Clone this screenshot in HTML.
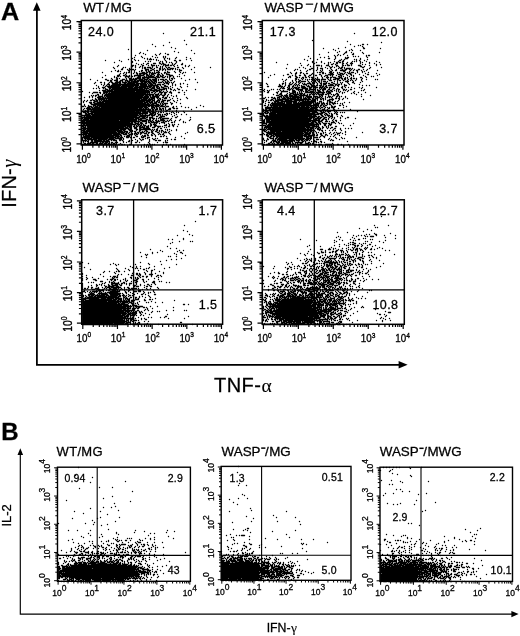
<!DOCTYPE html><html><head><meta charset="utf-8"><title>Figure</title><style>html,body{margin:0;padding:0;background:#fff}body{width:520px;height:636px;overflow:hidden;font-family:"Liberation Sans",sans-serif}svg{filter:grayscale(1)}svg text{white-space:pre}</style></head><body><svg width="520" height="636" viewBox="0 0 520 636" style="display:block"><rect width="520" height="636" fill="#fff"/><g fill="#000"><text transform="translate(1.0 19.8) scale(1.05 1)" font-size="24" font-weight="bold" font-family="Liberation Sans, sans-serif" stroke="#000" stroke-width="0.28">A</text><text x="1.3" y="439.5" font-size="24" font-family="Liberation Sans, sans-serif" stroke="#000" stroke-width="0.28" font-weight="bold">B</text><path d="M36.9 9V364.9H400" stroke="#000" stroke-width="1.75" fill="none"/><path d="M36.8 2.3L33 10.8H40.6Z"/><path d="M407.6 364.8L398.6 361.1V368.6Z"/><path d="M20.3 454V614.1H514" stroke="#000" stroke-width="1.15" fill="none"/><path d="M20.3 448.3L17.5 455H23.1Z"/><path d="M518.6 614.1L511.4 611.0V617.2Z"/><text transform="translate(16.4 207.7) rotate(-90)" font-size="20" letter-spacing="0.2" font-family="Liberation Sans, sans-serif" stroke="#000" stroke-width="0.28">IFN-<tspan font-family="Liberation Serif, serif" stroke-width="0.1" letter-spacing="0" font-style="italic" font-size="20" dx="0.5">γ</tspan></text><text x="214" y="392.2" font-size="20" letter-spacing="0.45" font-family="Liberation Sans, sans-serif" stroke="#000" stroke-width="0.28">TNF-<tspan font-family="Liberation Serif, serif" stroke-width="0.1" letter-spacing="0" font-size="19.5" dx="0.1">α</tspan></text><text transform="translate(11.1 526.6) rotate(-90)" font-size="13" font-family="Liberation Sans, sans-serif" stroke="#000" stroke-width="0.28">IL-2</text><text x="266.7" y="632.3" font-size="12.3" font-family="Liberation Sans, sans-serif" stroke="#000" stroke-width="0.28">IFN-<tspan font-family="Liberation Serif, serif" stroke-width="0.1" letter-spacing="0" font-size="13.5" dx="0.3">γ</tspan></text><rect x="81.3" y="20.5" width="141.2" height="124.5" fill="none" stroke="#000" stroke-width="1.5"/><path d="M131.4 20.5V145.0M81.3 111.2H222.5" stroke="#000" stroke-width="1.3" fill="none"/><path d="M82.40 145.0v4.8M81.3 143.90h-4.8M92.86 145.0v2.8M81.3 134.70h-2.8M98.98 145.0v2.8M81.3 129.31h-2.8M103.32 145.0v2.8M81.3 125.49h-2.8M106.69 145.0v2.8M81.3 122.53h-2.8M109.44 145.0v2.8M81.3 120.11h-2.8M111.77 145.0v2.8M81.3 118.06h-2.8M113.78 145.0v2.8M81.3 116.29h-2.8M115.56 145.0v2.8M81.3 114.72h-2.8M117.15 145.0v4.8M81.3 113.33h-4.8M127.61 145.0v2.8M81.3 104.12h-2.8M133.73 145.0v2.8M81.3 98.74h-2.8M138.07 145.0v2.8M81.3 94.92h-2.8M141.44 145.0v2.8M81.3 91.95h-2.8M144.19 145.0v2.8M81.3 89.53h-2.8M146.52 145.0v2.8M81.3 87.49h-2.8M148.53 145.0v2.8M81.3 85.71h-2.8M150.31 145.0v2.8M81.3 84.15h-2.8M151.90 145.0v4.8M81.3 82.75h-4.8M162.36 145.0v2.8M81.3 73.55h-2.8M168.48 145.0v2.8M81.3 68.16h-2.8M172.82 145.0v2.8M81.3 64.34h-2.8M176.19 145.0v2.8M81.3 61.38h-2.8M178.94 145.0v2.8M81.3 58.96h-2.8M181.27 145.0v2.8M81.3 56.91h-2.8M183.28 145.0v2.8M81.3 55.14h-2.8M185.06 145.0v2.8M81.3 53.57h-2.8M186.65 145.0v4.8M81.3 52.18h-4.8M197.11 145.0v2.8M81.3 42.97h-2.8M203.23 145.0v2.8M81.3 37.59h-2.8M207.57 145.0v2.8M81.3 33.77h-2.8M210.94 145.0v2.8M81.3 30.80h-2.8M213.69 145.0v2.8M81.3 28.38h-2.8M216.02 145.0v2.8M81.3 26.34h-2.8M218.03 145.0v2.8M81.3 24.56h-2.8M219.81 145.0v2.8M81.3 23.00h-2.8M221.40 145.0v4.8M81.3 21.60h-4.8" stroke="#000" stroke-width="1.2" fill="none"/><text transform="translate(76.15 163.00) scale(1 1.2)" font-size="9.8" font-family="Liberation Sans, sans-serif" stroke="#000" stroke-width="0.28">10<tspan dy="-4.0" font-size="6.6">0</tspan></text><text transform="translate(71.30 152.52) rotate(-90) scale(1 1.2)" font-size="10.3" font-family="Liberation Sans, sans-serif" stroke="#000" stroke-width="0.28">10<tspan dy="-3.6" font-size="6.8">0</tspan></text><text transform="translate(110.50 163.00) scale(1 1.2)" font-size="9.8" font-family="Liberation Sans, sans-serif" stroke="#000" stroke-width="0.28">10<tspan dy="-4.0" font-size="6.6">1</tspan></text><text transform="translate(71.30 121.94) rotate(-90) scale(1 1.2)" font-size="10.3" font-family="Liberation Sans, sans-serif" stroke="#000" stroke-width="0.28">10<tspan dy="-3.6" font-size="6.8">1</tspan></text><text transform="translate(144.85 163.00) scale(1 1.2)" font-size="9.8" font-family="Liberation Sans, sans-serif" stroke="#000" stroke-width="0.28">10<tspan dy="-4.0" font-size="6.6">2</tspan></text><text transform="translate(71.30 91.37) rotate(-90) scale(1 1.2)" font-size="10.3" font-family="Liberation Sans, sans-serif" stroke="#000" stroke-width="0.28">10<tspan dy="-3.6" font-size="6.8">2</tspan></text><text transform="translate(179.20 163.00) scale(1 1.2)" font-size="9.8" font-family="Liberation Sans, sans-serif" stroke="#000" stroke-width="0.28">10<tspan dy="-4.0" font-size="6.6">3</tspan></text><text transform="translate(71.30 60.79) rotate(-90) scale(1 1.2)" font-size="10.3" font-family="Liberation Sans, sans-serif" stroke="#000" stroke-width="0.28">10<tspan dy="-3.6" font-size="6.8">3</tspan></text><text transform="translate(213.55 163.00) scale(1 1.2)" font-size="9.8" font-family="Liberation Sans, sans-serif" stroke="#000" stroke-width="0.28">10<tspan dy="-4.0" font-size="6.6">4</tspan></text><text transform="translate(71.30 30.22) rotate(-90) scale(1 1.2)" font-size="10.3" font-family="Liberation Sans, sans-serif" stroke="#000" stroke-width="0.28">10<tspan dy="-3.6" font-size="6.8">4</tspan></text><rect x="262.3" y="20.5" width="141.7" height="124.5" fill="none" stroke="#000" stroke-width="1.5"/><path d="M313.7 20.5V145.0M262.3 110.5H404.0" stroke="#000" stroke-width="1.3" fill="none"/><path d="M263.40 145.0v4.8M262.3 143.90h-4.8M273.90 145.0v2.8M262.3 134.70h-2.8M280.04 145.0v2.8M262.3 129.31h-2.8M284.40 145.0v2.8M262.3 125.49h-2.8M287.78 145.0v2.8M262.3 122.53h-2.8M290.54 145.0v2.8M262.3 120.11h-2.8M292.87 145.0v2.8M262.3 118.06h-2.8M294.90 145.0v2.8M262.3 116.29h-2.8M296.68 145.0v2.8M262.3 114.72h-2.8M298.28 145.0v4.8M262.3 113.33h-4.8M308.77 145.0v2.8M262.3 104.12h-2.8M314.91 145.0v2.8M262.3 98.74h-2.8M319.27 145.0v2.8M262.3 94.92h-2.8M322.65 145.0v2.8M262.3 91.95h-2.8M325.41 145.0v2.8M262.3 89.53h-2.8M327.75 145.0v2.8M262.3 87.49h-2.8M329.77 145.0v2.8M262.3 85.71h-2.8M331.55 145.0v2.8M262.3 84.15h-2.8M333.15 145.0v4.8M262.3 82.75h-4.8M343.65 145.0v2.8M262.3 73.55h-2.8M349.79 145.0v2.8M262.3 68.16h-2.8M354.15 145.0v2.8M262.3 64.34h-2.8M357.53 145.0v2.8M262.3 61.38h-2.8M360.29 145.0v2.8M262.3 58.96h-2.8M362.62 145.0v2.8M262.3 56.91h-2.8M364.65 145.0v2.8M262.3 55.14h-2.8M366.43 145.0v2.8M262.3 53.57h-2.8M368.03 145.0v4.8M262.3 52.18h-4.8M378.52 145.0v2.8M262.3 42.97h-2.8M384.66 145.0v2.8M262.3 37.59h-2.8M389.02 145.0v2.8M262.3 33.77h-2.8M392.40 145.0v2.8M262.3 30.80h-2.8M395.16 145.0v2.8M262.3 28.38h-2.8M397.50 145.0v2.8M262.3 26.34h-2.8M399.52 145.0v2.8M262.3 24.56h-2.8M401.30 145.0v2.8M262.3 23.00h-2.8M402.90 145.0v4.8M262.3 21.60h-4.8" stroke="#000" stroke-width="1.2" fill="none"/><text transform="translate(257.15 163.00) scale(1 1.2)" font-size="9.8" font-family="Liberation Sans, sans-serif" stroke="#000" stroke-width="0.28">10<tspan dy="-4.0" font-size="6.6">0</tspan></text><text transform="translate(252.30 152.52) rotate(-90) scale(1 1.2)" font-size="10.3" font-family="Liberation Sans, sans-serif" stroke="#000" stroke-width="0.28">10<tspan dy="-3.6" font-size="6.8">0</tspan></text><text transform="translate(291.63 163.00) scale(1 1.2)" font-size="9.8" font-family="Liberation Sans, sans-serif" stroke="#000" stroke-width="0.28">10<tspan dy="-4.0" font-size="6.6">1</tspan></text><text transform="translate(252.30 121.94) rotate(-90) scale(1 1.2)" font-size="10.3" font-family="Liberation Sans, sans-serif" stroke="#000" stroke-width="0.28">10<tspan dy="-3.6" font-size="6.8">1</tspan></text><text transform="translate(326.10 163.00) scale(1 1.2)" font-size="9.8" font-family="Liberation Sans, sans-serif" stroke="#000" stroke-width="0.28">10<tspan dy="-4.0" font-size="6.6">2</tspan></text><text transform="translate(252.30 91.37) rotate(-90) scale(1 1.2)" font-size="10.3" font-family="Liberation Sans, sans-serif" stroke="#000" stroke-width="0.28">10<tspan dy="-3.6" font-size="6.8">2</tspan></text><text transform="translate(360.58 163.00) scale(1 1.2)" font-size="9.8" font-family="Liberation Sans, sans-serif" stroke="#000" stroke-width="0.28">10<tspan dy="-4.0" font-size="6.6">3</tspan></text><text transform="translate(252.30 60.79) rotate(-90) scale(1 1.2)" font-size="10.3" font-family="Liberation Sans, sans-serif" stroke="#000" stroke-width="0.28">10<tspan dy="-3.6" font-size="6.8">3</tspan></text><text transform="translate(395.05 163.00) scale(1 1.2)" font-size="9.8" font-family="Liberation Sans, sans-serif" stroke="#000" stroke-width="0.28">10<tspan dy="-4.0" font-size="6.6">4</tspan></text><text transform="translate(252.30 30.22) rotate(-90) scale(1 1.2)" font-size="10.3" font-family="Liberation Sans, sans-serif" stroke="#000" stroke-width="0.28">10<tspan dy="-3.6" font-size="6.8">4</tspan></text><rect x="81.7" y="199.8" width="140.89999999999998" height="124.39999999999998" fill="none" stroke="#000" stroke-width="1.5"/><path d="M133.6 199.8V324.2M81.7 289.8H222.6" stroke="#000" stroke-width="1.3" fill="none"/><path d="M82.80 324.2v4.8M81.7 323.10h-4.8M93.24 324.2v2.8M81.7 313.90h-2.8M99.34 324.2v2.8M81.7 308.52h-2.8M103.68 324.2v2.8M81.7 304.71h-2.8M107.04 324.2v2.8M81.7 301.75h-2.8M109.78 324.2v2.8M81.7 299.33h-2.8M112.10 324.2v2.8M81.7 297.28h-2.8M114.11 324.2v2.8M81.7 295.51h-2.8M115.89 324.2v2.8M81.7 293.95h-2.8M117.47 324.2v4.8M81.7 292.55h-4.8M127.91 324.2v2.8M81.7 283.35h-2.8M134.02 324.2v2.8M81.7 277.97h-2.8M138.35 324.2v2.8M81.7 274.16h-2.8M141.71 324.2v2.8M81.7 271.20h-2.8M144.46 324.2v2.8M81.7 268.78h-2.8M146.78 324.2v2.8M81.7 266.73h-2.8M148.79 324.2v2.8M81.7 264.96h-2.8M150.56 324.2v2.8M81.7 263.40h-2.8M152.15 324.2v4.8M81.7 262.00h-4.8M162.59 324.2v2.8M81.7 252.80h-2.8M168.69 324.2v2.8M81.7 247.42h-2.8M173.03 324.2v2.8M81.7 243.61h-2.8M176.39 324.2v2.8M81.7 240.65h-2.8M179.13 324.2v2.8M81.7 238.23h-2.8M181.45 324.2v2.8M81.7 236.18h-2.8M183.46 324.2v2.8M81.7 234.41h-2.8M185.24 324.2v2.8M81.7 232.85h-2.8M186.82 324.2v4.8M81.7 231.45h-4.8M197.26 324.2v2.8M81.7 222.25h-2.8M203.37 324.2v2.8M81.7 216.87h-2.8M207.70 324.2v2.8M81.7 213.06h-2.8M211.06 324.2v2.8M81.7 210.10h-2.8M213.81 324.2v2.8M81.7 207.68h-2.8M216.13 324.2v2.8M81.7 205.63h-2.8M218.14 324.2v2.8M81.7 203.86h-2.8M219.91 324.2v2.8M81.7 202.30h-2.8M221.50 324.2v4.8M81.7 200.90h-4.8" stroke="#000" stroke-width="1.2" fill="none"/><text transform="translate(76.55 342.20) scale(1 1.2)" font-size="9.8" font-family="Liberation Sans, sans-serif" stroke="#000" stroke-width="0.28">10<tspan dy="-4.0" font-size="6.6">0</tspan></text><text transform="translate(71.70 331.72) rotate(-90) scale(1 1.2)" font-size="10.3" font-family="Liberation Sans, sans-serif" stroke="#000" stroke-width="0.28">10<tspan dy="-3.6" font-size="6.8">0</tspan></text><text transform="translate(110.83 342.20) scale(1 1.2)" font-size="9.8" font-family="Liberation Sans, sans-serif" stroke="#000" stroke-width="0.28">10<tspan dy="-4.0" font-size="6.6">1</tspan></text><text transform="translate(71.70 301.17) rotate(-90) scale(1 1.2)" font-size="10.3" font-family="Liberation Sans, sans-serif" stroke="#000" stroke-width="0.28">10<tspan dy="-3.6" font-size="6.8">1</tspan></text><text transform="translate(145.10 342.20) scale(1 1.2)" font-size="9.8" font-family="Liberation Sans, sans-serif" stroke="#000" stroke-width="0.28">10<tspan dy="-4.0" font-size="6.6">2</tspan></text><text transform="translate(71.70 270.62) rotate(-90) scale(1 1.2)" font-size="10.3" font-family="Liberation Sans, sans-serif" stroke="#000" stroke-width="0.28">10<tspan dy="-3.6" font-size="6.8">2</tspan></text><text transform="translate(179.38 342.20) scale(1 1.2)" font-size="9.8" font-family="Liberation Sans, sans-serif" stroke="#000" stroke-width="0.28">10<tspan dy="-4.0" font-size="6.6">3</tspan></text><text transform="translate(71.70 240.07) rotate(-90) scale(1 1.2)" font-size="10.3" font-family="Liberation Sans, sans-serif" stroke="#000" stroke-width="0.28">10<tspan dy="-3.6" font-size="6.8">3</tspan></text><text transform="translate(213.65 342.20) scale(1 1.2)" font-size="9.8" font-family="Liberation Sans, sans-serif" stroke="#000" stroke-width="0.28">10<tspan dy="-4.0" font-size="6.6">4</tspan></text><text transform="translate(71.70 209.52) rotate(-90) scale(1 1.2)" font-size="10.3" font-family="Liberation Sans, sans-serif" stroke="#000" stroke-width="0.28">10<tspan dy="-3.6" font-size="6.8">4</tspan></text><rect x="262.3" y="199.8" width="142.0" height="124.5" fill="none" stroke="#000" stroke-width="1.5"/><path d="M314.3 199.8V324.3M262.3 289.8H404.3" stroke="#000" stroke-width="1.3" fill="none"/><path d="M263.40 324.3v4.8M262.3 323.20h-4.8M273.92 324.3v2.8M262.3 314.00h-2.8M280.08 324.3v2.8M262.3 308.61h-2.8M284.44 324.3v2.8M262.3 304.79h-2.8M287.83 324.3v2.8M262.3 301.83h-2.8M290.60 324.3v2.8M262.3 299.41h-2.8M292.94 324.3v2.8M262.3 297.36h-2.8M294.96 324.3v2.8M262.3 295.59h-2.8M296.75 324.3v2.8M262.3 294.02h-2.8M298.35 324.3v4.8M262.3 292.62h-4.8M308.87 324.3v2.8M262.3 283.42h-2.8M315.03 324.3v2.8M262.3 278.04h-2.8M319.39 324.3v2.8M262.3 274.22h-2.8M322.78 324.3v2.8M262.3 271.25h-2.8M325.55 324.3v2.8M262.3 268.83h-2.8M327.89 324.3v2.8M262.3 266.79h-2.8M329.91 324.3v2.8M262.3 265.01h-2.8M331.70 324.3v2.8M262.3 263.45h-2.8M333.30 324.3v4.8M262.3 262.05h-4.8M343.82 324.3v2.8M262.3 252.85h-2.8M349.98 324.3v2.8M262.3 247.46h-2.8M354.34 324.3v2.8M262.3 243.64h-2.8M357.73 324.3v2.8M262.3 240.68h-2.8M360.50 324.3v2.8M262.3 238.26h-2.8M362.84 324.3v2.8M262.3 236.21h-2.8M364.86 324.3v2.8M262.3 234.44h-2.8M366.65 324.3v2.8M262.3 232.87h-2.8M368.25 324.3v4.8M262.3 231.47h-4.8M378.77 324.3v2.8M262.3 222.27h-2.8M384.93 324.3v2.8M262.3 216.89h-2.8M389.29 324.3v2.8M262.3 213.07h-2.8M392.68 324.3v2.8M262.3 210.10h-2.8M395.45 324.3v2.8M262.3 207.68h-2.8M397.79 324.3v2.8M262.3 205.64h-2.8M399.81 324.3v2.8M262.3 203.86h-2.8M401.60 324.3v2.8M262.3 202.30h-2.8M403.20 324.3v4.8M262.3 200.90h-4.8" stroke="#000" stroke-width="1.2" fill="none"/><text transform="translate(257.15 342.30) scale(1 1.2)" font-size="9.8" font-family="Liberation Sans, sans-serif" stroke="#000" stroke-width="0.28">10<tspan dy="-4.0" font-size="6.6">0</tspan></text><text transform="translate(252.30 331.82) rotate(-90) scale(1 1.2)" font-size="10.3" font-family="Liberation Sans, sans-serif" stroke="#000" stroke-width="0.28">10<tspan dy="-3.6" font-size="6.8">0</tspan></text><text transform="translate(291.70 342.30) scale(1 1.2)" font-size="9.8" font-family="Liberation Sans, sans-serif" stroke="#000" stroke-width="0.28">10<tspan dy="-4.0" font-size="6.6">1</tspan></text><text transform="translate(252.30 301.24) rotate(-90) scale(1 1.2)" font-size="10.3" font-family="Liberation Sans, sans-serif" stroke="#000" stroke-width="0.28">10<tspan dy="-3.6" font-size="6.8">1</tspan></text><text transform="translate(326.25 342.30) scale(1 1.2)" font-size="9.8" font-family="Liberation Sans, sans-serif" stroke="#000" stroke-width="0.28">10<tspan dy="-4.0" font-size="6.6">2</tspan></text><text transform="translate(252.30 270.67) rotate(-90) scale(1 1.2)" font-size="10.3" font-family="Liberation Sans, sans-serif" stroke="#000" stroke-width="0.28">10<tspan dy="-3.6" font-size="6.8">2</tspan></text><text transform="translate(360.80 342.30) scale(1 1.2)" font-size="9.8" font-family="Liberation Sans, sans-serif" stroke="#000" stroke-width="0.28">10<tspan dy="-4.0" font-size="6.6">3</tspan></text><text transform="translate(252.30 240.09) rotate(-90) scale(1 1.2)" font-size="10.3" font-family="Liberation Sans, sans-serif" stroke="#000" stroke-width="0.28">10<tspan dy="-3.6" font-size="6.8">3</tspan></text><text transform="translate(395.35 342.30) scale(1 1.2)" font-size="9.8" font-family="Liberation Sans, sans-serif" stroke="#000" stroke-width="0.28">10<tspan dy="-4.0" font-size="6.6">4</tspan></text><text transform="translate(252.30 209.52) rotate(-90) scale(1 1.2)" font-size="10.3" font-family="Liberation Sans, sans-serif" stroke="#000" stroke-width="0.28">10<tspan dy="-3.6" font-size="6.8">4</tspan></text><rect x="57.5" y="467.2" width="132.9" height="114.09999999999997" fill="none" stroke="#000" stroke-width="1.4"/><path d="M97.2 467.2V581.3M57.5 555.4H190.4" stroke="#000" stroke-width="1.1" fill="none"/><path d="M58.10 581.3v3.4M57.5 580.70h-3.4M68.01 581.3v2.2M57.5 572.20h-2.2M73.81 581.3v2.2M57.5 567.23h-2.2M77.92 581.3v2.2M57.5 563.71h-2.2M81.11 581.3v2.2M57.5 560.97h-2.2M83.72 581.3v2.2M57.5 558.74h-2.2M85.92 581.3v2.2M57.5 556.85h-2.2M87.83 581.3v2.2M57.5 555.21h-2.2M89.52 581.3v2.2M57.5 553.77h-2.2M91.03 581.3v3.4M57.5 552.47h-3.4M100.94 581.3v2.2M57.5 543.98h-2.2M106.73 581.3v2.2M57.5 539.01h-2.2M110.85 581.3v2.2M57.5 535.48h-2.2M114.04 581.3v2.2M57.5 532.75h-2.2M116.65 581.3v2.2M57.5 530.51h-2.2M118.85 581.3v2.2M57.5 528.62h-2.2M120.76 581.3v2.2M57.5 526.99h-2.2M122.44 581.3v2.2M57.5 525.54h-2.2M123.95 581.3v3.4M57.5 524.25h-3.4M133.86 581.3v2.2M57.5 515.75h-2.2M139.66 581.3v2.2M57.5 510.78h-2.2M143.77 581.3v2.2M57.5 507.26h-2.2M146.96 581.3v2.2M57.5 504.52h-2.2M149.57 581.3v2.2M57.5 502.29h-2.2M151.77 581.3v2.2M57.5 500.40h-2.2M153.68 581.3v2.2M57.5 498.76h-2.2M155.37 581.3v2.2M57.5 497.32h-2.2M156.88 581.3v3.4M57.5 496.02h-3.4M166.79 581.3v2.2M57.5 487.53h-2.2M172.58 581.3v2.2M57.5 482.56h-2.2M176.70 581.3v2.2M57.5 479.03h-2.2M179.89 581.3v2.2M57.5 476.30h-2.2M182.50 581.3v2.2M57.5 474.06h-2.2M184.70 581.3v2.2M57.5 472.17h-2.2M186.61 581.3v2.2M57.5 470.54h-2.2M188.29 581.3v2.2M57.5 469.09h-2.2M189.80 581.3v3.4M57.5 467.80h-3.4" stroke="#000" stroke-width="1.0" fill="none"/><text transform="translate(52.27 595.90) scale(1 1.0)" font-size="8.5" font-family="Liberation Sans, sans-serif" stroke="#000" stroke-width="0.28">10<tspan dy="-4.8" font-size="8.5">0</tspan></text><text transform="translate(50.10 587.43) rotate(-90) scale(1 1.0)" font-size="8.5" font-family="Liberation Sans, sans-serif" stroke="#000" stroke-width="0.28">10<tspan dy="-4.8" font-size="8.5">0</tspan></text><text transform="translate(84.90 595.90) scale(1 1.0)" font-size="8.5" font-family="Liberation Sans, sans-serif" stroke="#000" stroke-width="0.28">10<tspan dy="-4.8" font-size="8.5">1</tspan></text><text transform="translate(50.10 558.90) rotate(-90) scale(1 1.0)" font-size="8.5" font-family="Liberation Sans, sans-serif" stroke="#000" stroke-width="0.28">10<tspan dy="-4.8" font-size="8.5">1</tspan></text><text transform="translate(117.52 595.90) scale(1 1.0)" font-size="8.5" font-family="Liberation Sans, sans-serif" stroke="#000" stroke-width="0.28">10<tspan dy="-4.8" font-size="8.5">2</tspan></text><text transform="translate(50.10 530.38) rotate(-90) scale(1 1.0)" font-size="8.5" font-family="Liberation Sans, sans-serif" stroke="#000" stroke-width="0.28">10<tspan dy="-4.8" font-size="8.5">2</tspan></text><text transform="translate(150.15 595.90) scale(1 1.0)" font-size="8.5" font-family="Liberation Sans, sans-serif" stroke="#000" stroke-width="0.28">10<tspan dy="-4.8" font-size="8.5">3</tspan></text><text transform="translate(50.10 501.85) rotate(-90) scale(1 1.0)" font-size="8.5" font-family="Liberation Sans, sans-serif" stroke="#000" stroke-width="0.28">10<tspan dy="-4.8" font-size="8.5">3</tspan></text><text transform="translate(182.77 595.90) scale(1 1.0)" font-size="8.5" font-family="Liberation Sans, sans-serif" stroke="#000" stroke-width="0.28">10<tspan dy="-4.8" font-size="8.5">4</tspan></text><text transform="translate(50.10 473.33) rotate(-90) scale(1 1.0)" font-size="8.5" font-family="Liberation Sans, sans-serif" stroke="#000" stroke-width="0.28">10<tspan dy="-4.8" font-size="8.5">4</tspan></text><rect x="221.2" y="466.4" width="129.8" height="113.89999999999998" fill="none" stroke="#000" stroke-width="1.4"/><path d="M261.6 466.4V580.3M221.2 555.3H351.0" stroke="#000" stroke-width="1.1" fill="none"/><path d="M221.80 580.3v3.4M221.2 579.70h-3.4M231.48 580.3v2.2M221.2 571.22h-2.2M237.14 580.3v2.2M221.2 566.26h-2.2M241.16 580.3v2.2M221.2 562.74h-2.2M244.27 580.3v2.2M221.2 560.01h-2.2M246.82 580.3v2.2M221.2 557.78h-2.2M248.97 580.3v2.2M221.2 555.89h-2.2M250.83 580.3v2.2M221.2 554.26h-2.2M252.48 580.3v2.2M221.2 552.81h-2.2M253.95 580.3v3.4M221.2 551.52h-3.4M263.63 580.3v2.2M221.2 543.04h-2.2M269.29 580.3v2.2M221.2 538.08h-2.2M273.31 580.3v2.2M221.2 534.56h-2.2M276.42 580.3v2.2M221.2 531.83h-2.2M278.97 580.3v2.2M221.2 529.60h-2.2M281.12 580.3v2.2M221.2 527.71h-2.2M282.98 580.3v2.2M221.2 526.08h-2.2M284.63 580.3v2.2M221.2 524.64h-2.2M286.10 580.3v3.4M221.2 523.35h-3.4M295.78 580.3v2.2M221.2 514.87h-2.2M301.44 580.3v2.2M221.2 509.91h-2.2M305.46 580.3v2.2M221.2 506.39h-2.2M308.57 580.3v2.2M221.2 503.66h-2.2M311.12 580.3v2.2M221.2 501.43h-2.2M313.27 580.3v2.2M221.2 499.54h-2.2M315.13 580.3v2.2M221.2 497.91h-2.2M316.78 580.3v2.2M221.2 496.46h-2.2M318.25 580.3v3.4M221.2 495.17h-3.4M327.93 580.3v2.2M221.2 486.69h-2.2M333.59 580.3v2.2M221.2 481.73h-2.2M337.61 580.3v2.2M221.2 478.21h-2.2M340.72 580.3v2.2M221.2 475.48h-2.2M343.27 580.3v2.2M221.2 473.25h-2.2M345.42 580.3v2.2M221.2 471.36h-2.2M347.28 580.3v2.2M221.2 469.73h-2.2M348.93 580.3v2.2M221.2 468.29h-2.2M350.40 580.3v3.4M221.2 467.00h-3.4" stroke="#000" stroke-width="1.0" fill="none"/><text transform="translate(215.37 594.90) scale(1 1.0)" font-size="8.5" font-family="Liberation Sans, sans-serif" stroke="#000" stroke-width="0.28">10<tspan dy="-4.8" font-size="8.5">0</tspan></text><text transform="translate(213.80 586.43) rotate(-90) scale(1 1.0)" font-size="8.5" font-family="Liberation Sans, sans-serif" stroke="#000" stroke-width="0.28">10<tspan dy="-4.8" font-size="8.5">0</tspan></text><text transform="translate(247.22 594.90) scale(1 1.0)" font-size="8.5" font-family="Liberation Sans, sans-serif" stroke="#000" stroke-width="0.28">10<tspan dy="-4.8" font-size="8.5">1</tspan></text><text transform="translate(213.80 557.95) rotate(-90) scale(1 1.0)" font-size="8.5" font-family="Liberation Sans, sans-serif" stroke="#000" stroke-width="0.28">10<tspan dy="-4.8" font-size="8.5">1</tspan></text><text transform="translate(279.07 594.90) scale(1 1.0)" font-size="8.5" font-family="Liberation Sans, sans-serif" stroke="#000" stroke-width="0.28">10<tspan dy="-4.8" font-size="8.5">2</tspan></text><text transform="translate(213.80 529.48) rotate(-90) scale(1 1.0)" font-size="8.5" font-family="Liberation Sans, sans-serif" stroke="#000" stroke-width="0.28">10<tspan dy="-4.8" font-size="8.5">2</tspan></text><text transform="translate(310.92 594.90) scale(1 1.0)" font-size="8.5" font-family="Liberation Sans, sans-serif" stroke="#000" stroke-width="0.28">10<tspan dy="-4.8" font-size="8.5">3</tspan></text><text transform="translate(213.80 501.00) rotate(-90) scale(1 1.0)" font-size="8.5" font-family="Liberation Sans, sans-serif" stroke="#000" stroke-width="0.28">10<tspan dy="-4.8" font-size="8.5">3</tspan></text><text transform="translate(342.77 594.90) scale(1 1.0)" font-size="8.5" font-family="Liberation Sans, sans-serif" stroke="#000" stroke-width="0.28">10<tspan dy="-4.8" font-size="8.5">4</tspan></text><text transform="translate(213.80 472.53) rotate(-90) scale(1 1.0)" font-size="8.5" font-family="Liberation Sans, sans-serif" stroke="#000" stroke-width="0.28">10<tspan dy="-4.8" font-size="8.5">4</tspan></text><rect x="380.0" y="467.2" width="132.5" height="114.19999999999999" fill="none" stroke="#000" stroke-width="1.4"/><path d="M421.0 467.2V581.4M380.0 555.4H512.5" stroke="#000" stroke-width="1.1" fill="none"/><path d="M380.60 581.4v3.4M380.0 580.80h-3.4M390.48 581.4v2.2M380.0 572.30h-2.2M396.26 581.4v2.2M380.0 567.32h-2.2M400.36 581.4v2.2M380.0 563.79h-2.2M403.54 581.4v2.2M380.0 561.05h-2.2M406.14 581.4v2.2M380.0 558.82h-2.2M408.34 581.4v2.2M380.0 556.93h-2.2M410.24 581.4v2.2M380.0 555.29h-2.2M411.92 581.4v2.2M380.0 553.84h-2.2M413.43 581.4v3.4M380.0 552.55h-3.4M423.31 581.4v2.2M380.0 544.05h-2.2M429.09 581.4v2.2M380.0 539.07h-2.2M433.19 581.4v2.2M380.0 535.54h-2.2M436.37 581.4v2.2M380.0 532.80h-2.2M438.97 581.4v2.2M380.0 530.57h-2.2M441.17 581.4v2.2M380.0 528.68h-2.2M443.07 581.4v2.2M380.0 527.04h-2.2M444.75 581.4v2.2M380.0 525.59h-2.2M446.25 581.4v3.4M380.0 524.30h-3.4M456.13 581.4v2.2M380.0 515.80h-2.2M461.91 581.4v2.2M380.0 510.82h-2.2M466.01 581.4v2.2M380.0 507.29h-2.2M469.19 581.4v2.2M380.0 504.55h-2.2M471.79 581.4v2.2M380.0 502.32h-2.2M473.99 581.4v2.2M380.0 500.43h-2.2M475.89 581.4v2.2M380.0 498.79h-2.2M477.57 581.4v2.2M380.0 497.34h-2.2M479.08 581.4v3.4M380.0 496.05h-3.4M488.96 581.4v2.2M380.0 487.55h-2.2M494.74 581.4v2.2M380.0 482.57h-2.2M498.84 581.4v2.2M380.0 479.04h-2.2M502.02 581.4v2.2M380.0 476.30h-2.2M504.62 581.4v2.2M380.0 474.07h-2.2M506.82 581.4v2.2M380.0 472.18h-2.2M508.72 581.4v2.2M380.0 470.54h-2.2M510.40 581.4v2.2M380.0 469.09h-2.2M511.90 581.4v3.4M380.0 467.80h-3.4" stroke="#000" stroke-width="1.0" fill="none"/><text transform="translate(375.37 596.00) scale(1 1.0)" font-size="8.5" font-family="Liberation Sans, sans-serif" stroke="#000" stroke-width="0.28">10<tspan dy="-4.8" font-size="8.5">0</tspan></text><text transform="translate(372.60 587.53) rotate(-90) scale(1 1.0)" font-size="8.5" font-family="Liberation Sans, sans-serif" stroke="#000" stroke-width="0.28">10<tspan dy="-4.8" font-size="8.5">0</tspan></text><text transform="translate(407.90 596.00) scale(1 1.0)" font-size="8.5" font-family="Liberation Sans, sans-serif" stroke="#000" stroke-width="0.28">10<tspan dy="-4.8" font-size="8.5">1</tspan></text><text transform="translate(372.60 558.98) rotate(-90) scale(1 1.0)" font-size="8.5" font-family="Liberation Sans, sans-serif" stroke="#000" stroke-width="0.28">10<tspan dy="-4.8" font-size="8.5">1</tspan></text><text transform="translate(440.42 596.00) scale(1 1.0)" font-size="8.5" font-family="Liberation Sans, sans-serif" stroke="#000" stroke-width="0.28">10<tspan dy="-4.8" font-size="8.5">2</tspan></text><text transform="translate(372.60 530.43) rotate(-90) scale(1 1.0)" font-size="8.5" font-family="Liberation Sans, sans-serif" stroke="#000" stroke-width="0.28">10<tspan dy="-4.8" font-size="8.5">2</tspan></text><text transform="translate(472.95 596.00) scale(1 1.0)" font-size="8.5" font-family="Liberation Sans, sans-serif" stroke="#000" stroke-width="0.28">10<tspan dy="-4.8" font-size="8.5">3</tspan></text><text transform="translate(372.60 501.88) rotate(-90) scale(1 1.0)" font-size="8.5" font-family="Liberation Sans, sans-serif" stroke="#000" stroke-width="0.28">10<tspan dy="-4.8" font-size="8.5">3</tspan></text><text transform="translate(505.47 596.00) scale(1 1.0)" font-size="8.5" font-family="Liberation Sans, sans-serif" stroke="#000" stroke-width="0.28">10<tspan dy="-4.8" font-size="8.5">4</tspan></text><text transform="translate(372.60 473.33) rotate(-90) scale(1 1.0)" font-size="8.5" font-family="Liberation Sans, sans-serif" stroke="#000" stroke-width="0.28">10<tspan dy="-4.8" font-size="8.5">4</tspan></text><text x="83.2" y="12.4" font-size="13.4" font-family="Liberation Sans, sans-serif" stroke="#000" stroke-width="0.28" >WT</text><text x="105.6" y="12.4" font-size="13.4" font-family="Liberation Sans, sans-serif" stroke="#000" stroke-width="0.28" >/</text><text x="110.4" y="12.4" font-size="13.4" font-family="Liberation Sans, sans-serif" stroke="#000" stroke-width="0.28" >MG</text><text x="264.4" y="12.4" font-size="13.4" font-family="Liberation Sans, sans-serif" stroke="#000" stroke-width="0.28" >WASP</text><rect x="305.80" y="3.56" width="7.4" height="1.2"/><text x="313.8" y="12.4" font-size="13.4" font-family="Liberation Sans, sans-serif" stroke="#000" stroke-width="0.28" >/</text><text x="319.8" y="12.4" font-size="13.4" font-family="Liberation Sans, sans-serif" stroke="#000" stroke-width="0.28" >MWG</text><text x="82.6" y="191.8" font-size="13.4" font-family="Liberation Sans, sans-serif" stroke="#000" stroke-width="0.28" >WASP</text><rect x="123.20" y="182.96" width="7.0" height="1.2"/><text x="131.4" y="191.8" font-size="13.4" font-family="Liberation Sans, sans-serif" stroke="#000" stroke-width="0.28" >/</text><text x="137.6" y="191.8" font-size="13.4" font-family="Liberation Sans, sans-serif" stroke="#000" stroke-width="0.28" >MG</text><text x="264.4" y="191.8" font-size="13.4" font-family="Liberation Sans, sans-serif" stroke="#000" stroke-width="0.28" >WASP</text><rect x="305.80" y="182.96" width="7.4" height="1.2"/><text x="313.8" y="191.8" font-size="13.4" font-family="Liberation Sans, sans-serif" stroke="#000" stroke-width="0.28" >/</text><text x="319.8" y="191.8" font-size="13.4" font-family="Liberation Sans, sans-serif" stroke="#000" stroke-width="0.28" >MWG</text><text x="56.6" y="456.2" font-size="13" font-family="Liberation Sans, sans-serif" stroke="#000" stroke-width="0.28" letter-spacing="0.3">WT/MG</text><text x="221.6" y="456.2" font-size="13.4" font-family="Liberation Sans, sans-serif" stroke="#000" stroke-width="0.28" >WASP</text><rect x="261.20" y="447.36" width="4.2" height="1.5"/><text x="265.0" y="456.2" font-size="13.4" font-family="Liberation Sans, sans-serif" stroke="#000" stroke-width="0.28" >/</text><text x="269.2" y="456.2" font-size="13.4" font-family="Liberation Sans, sans-serif" stroke="#000" stroke-width="0.28" >MG</text><text x="379.8" y="456.4" font-size="13.4" font-family="Liberation Sans, sans-serif" stroke="#000" stroke-width="0.28" >WASP</text><rect x="419.40" y="447.56" width="4.2" height="1.5"/><text x="423.2" y="456.4" font-size="13.4" font-family="Liberation Sans, sans-serif" stroke="#000" stroke-width="0.28" >/</text><text x="427.4" y="456.4" font-size="13.4" font-family="Liberation Sans, sans-serif" stroke="#000" stroke-width="0.28" >MWG</text><text x="88.0" y="35.6" font-size="12.5" font-family="Liberation Sans, sans-serif" stroke="#000" stroke-width="0.28" letter-spacing="0.45">24.0</text><text x="190.0" y="35.8" font-size="12.5" font-family="Liberation Sans, sans-serif" stroke="#000" stroke-width="0.28" letter-spacing="0.45">21.1</text><text x="196.8" y="132.6" font-size="12.5" font-family="Liberation Sans, sans-serif" stroke="#000" stroke-width="0.28" letter-spacing="0.45">6.5</text><text x="269.8" y="35.8" font-size="12.5" font-family="Liberation Sans, sans-serif" stroke="#000" stroke-width="0.28" letter-spacing="0.45">17.3</text><text x="371.8" y="35.8" font-size="12.5" font-family="Liberation Sans, sans-serif" stroke="#000" stroke-width="0.28" letter-spacing="0.45">12.0</text><text x="379.2" y="132.8" font-size="12.5" font-family="Liberation Sans, sans-serif" stroke="#000" stroke-width="0.28" letter-spacing="0.45">3.7</text><text x="96.0" y="215.2" font-size="12.5" font-family="Liberation Sans, sans-serif" stroke="#000" stroke-width="0.28" letter-spacing="0.45">3.7</text><text x="198.6" y="215.2" font-size="12.5" font-family="Liberation Sans, sans-serif" stroke="#000" stroke-width="0.28" letter-spacing="0.45">1.7</text><text x="198.8" y="309.0" font-size="12.5" font-family="Liberation Sans, sans-serif" stroke="#000" stroke-width="0.28" letter-spacing="0.45">1.5</text><text x="277.0" y="215.2" font-size="12.5" font-family="Liberation Sans, sans-serif" stroke="#000" stroke-width="0.28" letter-spacing="0.45">4.4</text><text x="372.0" y="215.2" font-size="12.5" font-family="Liberation Sans, sans-serif" stroke="#000" stroke-width="0.28" letter-spacing="0.45">12.7</text><text x="372.4" y="309.2" font-size="12.5" font-family="Liberation Sans, sans-serif" stroke="#000" stroke-width="0.28" letter-spacing="0.45">10.8</text><text x="64.4" y="482.4" font-size="10.5" font-family="Liberation Sans, sans-serif" stroke="#000" stroke-width="0.28" letter-spacing="0.2">0.94</text><text x="167.8" y="482.4" font-size="10.5" font-family="Liberation Sans, sans-serif" stroke="#000" stroke-width="0.28" letter-spacing="0.2">2.9</text><text x="167.8" y="574.0" font-size="10.5" font-family="Liberation Sans, sans-serif" stroke="#000" stroke-width="0.28" letter-spacing="0.2">43</text><text x="229.6" y="482.2" font-size="10.5" font-family="Liberation Sans, sans-serif" stroke="#000" stroke-width="0.28" letter-spacing="0.2">1.3</text><text x="321.8" y="481.4" font-size="10.5" font-family="Liberation Sans, sans-serif" stroke="#000" stroke-width="0.28" letter-spacing="0.2">0.51</text><text x="321.6" y="574.0" font-size="10.5" font-family="Liberation Sans, sans-serif" stroke="#000" stroke-width="0.28" letter-spacing="0.2">5.0</text><text x="392.4" y="520.6" font-size="10.5" font-family="Liberation Sans, sans-serif" stroke="#000" stroke-width="0.28" letter-spacing="0.2">2.9</text><text x="489.8" y="481.4" font-size="10.5" font-family="Liberation Sans, sans-serif" stroke="#000" stroke-width="0.28" letter-spacing="0.2">2.2</text><text x="490.6" y="573.8" font-size="10.5" font-family="Liberation Sans, sans-serif" stroke="#000" stroke-width="0.28" letter-spacing="0.2">10.1</text><g stroke="#000" stroke-width="1.4" stroke-linecap="round" fill="none"><path transform="translate(81.5 20.5)" d="M82 13h0m21 7h0m-15 2h0m-17 2h0m34 0h0m-23 1h0m-8 1h0m16 1h0m4 1h0m-47 1h0m19 1h0m44 0h0m-17 1h0m-34 1h0m38 0h0m-39 1h0m4 0h0m17 0h0m5 0h0m29 0h0m-49 1h0m10 0h0m4 0h0m8 0h1m-33 1h0m21 0h0m-15 1h0m11 0h0m11 0h0m2 0h0m-31 1h0m8 0h0m13 0h0m2 0h0m6 0h0m2 0h0m11 0h0m10 0h0m-54 1h0m12 0h0m3 0h0m3 0h0m14 0h0m3 0h0m2 0h0m6 0h0m15 0h0m-62 1h0m6 0h0m13 0h0m2 0h2m2 0h0m3 0h0m8 0h0m5 0h0m17 0h0m-81 1h0m14 0h0m16 0h0m3 0h0m18 0h0m2 0h0m7 0h0m9 0h1m4 0h1m11 0h0m-70 1h0m11 0h0m13 0h0m3 0h0m2 0h0m10 0h0m2 0h0m4 0h0m10 0h0m-62 1h0m18 0h0m27 0h0m3 0h0m4 0h0m3 0h0m2 0h0m5 0h0m-40 1h0m7 0h0m4 0h1m5 0h2m4 0h1m2 0h1m9 0h0m3 0h0m7 0h0m-44 1h0m3 0h0m5 0h0m5 0h0m10 0h0m2 0h2m3 0h0m4 0h0m2 0h0m7 0h1m-64 1h0m14 0h1m2 0h0m7 0h1m5 0h0m3 0h3m2 0h0m2 0h0m5 0h0m2 0h3m2 0h1m2 0h0m4 0h0m8 0h0m4 0h0m-72 1h0m14 0h1m3 0h0m5 0h0m2 0h0m10 0h0m4 0h0m4 0h0m2 0h0m3 0h0m9 0h0m11 0h0m3 0h0m-75 1h0m10 0h0m2 0h0m6 0h0m4 0h0m4 0h0m3 0h0m2 0h1m2 0h3m2 0h0m4 0h1m3 0h0m2 0h0m4 0h0m2 0h1m8 0h1m4 0h0m12 0h0m16 0h0m-96 1h0m8 0h0m7 0h0m13 0h0m2 0h1m5 0h1m3 0h0m5 0h1m2 0h0m2 0h0m3 0h0m3 0h3m2 0h0m8 0h0m-62 1h1m5 0h0m2 0h4m2 0h0m10 0h3m4 0h1m6 0h1m2 0h1m2 0h0m2 0h3m2 0h0m3 0h0m2 0h0m2 0h0m12 0h0m-76 1h0m3 0h0m10 0h1m5 0h0m7 0h1m3 0h1m2 0h0m2 0h1m3 0h0m2 0h1m2 0h0m3 0h0m3 0h0m14 0h2m-70 1h0m6 0h1m2 0h0m9 0h0m5 0h0m5 0h0m2 0h0m5 0h0m2 0h1m5 0h0m4 0h0m9 0h0m7 0h0m5 0h0m-77 1h0m22 0h0m2 0h0m2 0h1m5 0h0m2 0h0m6 0h2m2 0h1m2 0h1m2 0h0m2 0h0m2 0h3m5 0h1m2 0h2m6 0h0m5 0h0m3 0h0m2 0h0m9 0h0m-74 1h0m3 0h0m3 0h0m7 0h0m3 0h1m2 0h7m3 0h0m2 0h4m3 0h0m3 0h0m3 0h0m2 0h0m16 0h0m-63 1h0m6 0h0m12 0h0m2 0h1m3 0h1m2 0h1m2 0h0m2 0h2m4 0h2m3 0h0m4 0h3m10 0h0m-74 1h0m12 0h2m4 0h1m2 0h0m3 0h0m5 0h9m3 0h2m2 0h1m3 0h0m3 0h1m2 0h0m2 0h1m6 0h3m12 0h0m-70 1h0m3 0h1m2 0h0m5 0h4m2 0h1m2 0h0m4 0h2m4 0h0m2 0h0m2 0h5m3 0h2m2 0h2m3 0h0m2 0h0m2 0h1m3 0h0m4 0h0m2 0h0m-77 1h0m12 0h0m2 0h0m9 0h0m3 0h0m9 0h3m2 0h13m2 0h2m3 0h2m3 0h0m2 0h0m4 0h0m-62 1h0m5 0h1m2 0h0m7 0h0m3 0h2m2 0h0m2 0h5m2 0h2m3 0h1m7 0h1m13 0h0m2 0h1m2 0h0m7 0h0m-91 1h0m15 0h1m6 0h0m4 0h1m5 0h2m2 0h0m3 0h1m2 0h4m3 0h3m2 0h3m2 0h1m2 0h4m2 0h0m2 0h3m2 0h1m3 0h0m3 0h0m17 0h0m6 0h0m-98 1h0m10 0h1m2 0h1m3 0h3m3 0h2m3 0h2m2 0h1m2 0h0m2 0h1m2 0h7m2 0h0m2 0h0m2 0h1m2 0h3m2 0h0m5 0h1m3 0h0m3 0h1m14 0h0m-75 1h1m5 0h1m2 0h1m2 0h0m3 0h0m2 0h2m3 0h6m2 0h9m2 0h1m2 0h2m6 0h0m3 0h0m2 0h1m6 0h0m-79 1h0m5 0h1m3 0h0m5 0h0m2 0h1m3 0h5m2 0h4m2 0h2m2 0h5m4 0h1m2 0h2m2 0h2m2 0h2m2 0h0m2 0h3m2 0h0m2 0h2m2 0h0m2 0h0m2 0h0m24 0h0m-103 1h0m10 0h0m4 0h0m4 0h5m2 0h1m4 0h1m2 0h7m2 0h9m2 0h0m2 0h2m2 0h2m9 0h0m2 0h2m4 0h0m8 0h0m3 0h0m-82 1h0m3 0h0m3 0h2m3 0h26m2 0h6m2 0h0m2 0h2m3 0h0m2 0h3m2 0h1m5 0h0m4 0h0m3 0h0m5 0h0m7 0h0m-91 1h0m7 0h0m3 0h0m3 0h0m2 0h9m2 0h16m2 0h6m2 0h9m3 0h0m4 0h1m7 0h0m3 0h0m-77 1h0m7 0h0m2 0h12m2 0h12m2 0h2m2 0h12m2 0h1m2 0h2m3 0h0m3 0h3m3 0h0m10 0h0m7 0h0m-89 1h0m4 0h2m4 0h18m2 0h4m2 0h11m2 0h0m2 0h1m2 0h2m2 0h1m2 0h0m2 0h2m5 0h0m4 0h0m9 0h0m-88 1h0m3 0h0m3 0h0m4 0h0m2 0h0m4 0h1m2 0h25m2 0h3m2 0h4m3 0h3m3 0h2m4 0h3m2 0h0m2 0h0m7 0h0m-72 1h2m2 0h0m2 0h33m2 0h0m3 0h2m3 0h2m3 0h5m2 0h0m4 0h1m3 0h0m4 0h1m16 0h0m-96 1h0m3 0h3m2 0h5m2 0h34m2 0h9m2 0h0m5 0h0m7 0h0m2 0h0m7 0h0m4 0h0m-104 1h0m21 0h31m2 0h13m4 0h1m2 0h1m2 0h1m3 0h0m4 0h0m3 0h0m-81 1h0m4 0h4m2 0h1m3 0h4m2 0h0m2 0h38m2 0h1m3 0h0m4 0h3m2 0h2m3 0h2m7 0h1m5 0h0m-92 1h0m8 0h0m3 0h1m2 0h0m2 0h37m2 0h0m2 0h0m5 0h0m4 0h0m3 0h0m3 0h1m6 0h0m-74 1h1m4 0h0m3 0h48m2 0h3m2 0h1m3 0h1m3 0h0m16 0h0m-93 1h0m2 0h0m2 0h1m2 0h0m4 0h0m2 0h39m2 0h2m2 0h1m2 0h1m2 0h2m2 0h0m3 0h2m3 0h0m4 0h0m5 0h0m-87 1h0m3 0h0m3 0h0m3 0h4m2 0h0m2 0h36m2 0h4m2 0h0m2 0h6m5 0h0m4 0h0m6 0h0m3 0h0m-92 1h0m5 0h0m3 0h0m5 0h3m2 0h1m2 0h0m2 0h41m2 0h4m2 0h2m4 0h1m2 0h1m3 0h0m17 0h0m-91 1h0m3 0h43m2 0h4m2 0h0m2 0h3m3 0h0m2 0h1m4 0h2m6 0h0m5 0h0m10 0h0m-95 1h0m3 0h1m2 0h6m2 0h0m2 0h31m2 0h5m2 0h4m2 0h0m4 0h0m2 0h0m2 0h0m8 0h0m10 0h0m-99 1h0m3 0h0m3 0h0m3 0h1m2 0h1m2 0h1m2 0h0m2 0h0m2 0h47m2 0h2m3 0h2m3 0h3m2 0h2m4 0h0m4 0h0m-94 1h0m3 0h0m8 0h3m2 0h1m2 0h42m2 0h3m2 0h1m2 0h0m2 0h1m2 0h0m2 0h2m4 0h0m7 0h0m-91 1h0m6 0h2m2 0h1m3 0h6m2 0h37m2 0h3m2 0h3m2 0h2m2 0h1m2 0h0m2 0h0m7 0h0m6 0h0m-86 1h1m3 0h51m2 0h1m2 0h0m2 0h4m4 0h0m2 0h0m2 0h3m4 0h1m8 0h0m-96 1h0m7 0h58m2 0h2m3 0h2m2 0h0m2 0h1m2 0h0m6 0h0m-87 1h0m4 0h0m5 0h2m2 0h62m2 0h1m3 0h0m35 0h0m-119 1h2m2 0h0m3 0h3m2 0h0m2 0h2m2 0h47m2 0h1m2 0h2m2 0h3m2 0h4m2 0h2m5 0h0m3 0h0m5 0h0m22 0h0m-116 1h2m2 0h1m2 0h5m2 0h41m2 0h3m4 0h3m2 0h0m3 0h0m6 0h0m7 0h1m12 0h0m3 0h0m8 0h0m-115 1h0m3 0h0m2 0h4m2 0h45m2 0h2m2 0h0m2 0h1m2 0h0m3 0h1m2 0h0m2 0h1m2 0h1m2 0h1m2 0h0m4 0h1m3 0h1m2 0h1m-96 1h0m2 0h0m4 0h63m2 0h1m2 0h2m2 0h2m2 0h0m2 0h0m3 0h2m21 0h0m-110 1h0m4 0h0m2 0h1m3 0h0m2 0h52m3 0h2m2 0h1m2 0h0m6 0h0m2 0h0m3 0h1m9 0h0m-95 1h7m2 0h44m2 0h2m2 0h0m2 0h3m2 0h2m2 0h2m3 0h0m2 0h0m2 0h0m5 0h1m3 0h0m3 0h0m4 0h0m7 0h0m-100 1h2m2 0h1m3 0h49m2 0h5m2 0h1m2 0h3m3 0h0m2 0h1m2 0h0m8 0h0m2 0h0m3 0h0m2 0h0m6 0h0m-103 1h0m4 0h1m2 0h4m2 0h53m3 0h3m2 0h0m2 0h0m9 0h1m2 0h0m5 0h0m-93 1h0m4 0h4m2 0h46m2 0h1m2 0h0m3 0h0m4 0h3m2 0h1m3 0h2m2 0h0m2 0h1m2 0h0m4 0h0m5 0h0m5 0h0m5 0h0m-105 1h9m2 0h46m2 0h9m2 0h3m4 0h0m2 0h0m2 0h0m4 0h0m8 0h0m-93 1h0m3 0h0m2 0h50m3 0h6m2 0h0m5 0h0m4 0h1m3 0h4m8 0h0m5 0h0m-96 1h58m3 0h2m2 0h1m2 0h3m7 0h2m14 0h1m14 0h0m-109 1h1m2 0h49m2 0h3m2 0h5m4 0h1m2 0h2m2 0h0m2 0h0m2 0h0m2 0h6m3 0h0m-90 1h0m2 0h5m2 0h46m2 0h3m5 0h1m2 0h1m3 0h0m3 0h0m4 0h3m7 0h0m10 0h0m10 0h0m-109 1h37m2 0h10m2 0h4m2 0h0m2 0h6m2 0h2m2 0h0m3 0h1m2 0h0m2 0h4m3 0h0m2 0h0m2 0h0m4 0h0m4 0h0m10 0h0m-108 1h3m2 0h53m3 0h4m2 0h0m2 0h1m2 0h0m3 0h3m4 0h0m2 0h1m2 0h0m6 0h0m9 0h0m-102 1h48m2 0h1m2 0h1m3 0h0m2 0h1m5 0h0m2 0h1m2 0h6m4 0h3m7 0h1m2 0h0m9 0h0m2 0h0m-104 1h49m2 0h0m3 0h3m2 0h2m3 0h1m4 0h0m4 0h0m2 0h0m3 0h0m5 0h0m4 0h0m-87 1h0m2 0h1m2 0h49m2 0h2m2 0h0m2 0h0m7 0h1m2 0h2m11 0h0m3 0h0m3 0h0m2 0h0m4 0h0m-97 1h50m3 0h0m2 0h0m2 0h0m2 0h1m2 0h2m3 0h0m2 0h1m3 0h2m8 0h2m3 0h0m3 0h1m-92 1h2m2 0h0m2 0h38m2 0h3m3 0h1m2 0h1m2 0h1m2 0h0m2 0h0m2 0h2m2 0h0m4 0h1m2 0h3m2 0h0m6 0h1m4 0h0m4 0h0m-96 1h0m2 0h2m2 0h36m2 0h2m2 0h2m3 0h2m3 0h5m2 0h2m4 0h2m4 0h0m6 0h0m2 0h0m-85 1h47m2 0h1m3 0h2m3 0h1m3 0h6m8 0h0m3 0h1m-80 1h0m2 0h2m2 0h31m2 0h5m3 0h3m5 0h1m2 0h11m2 0h0m2 0h0m2 0h1m8 0h0m2 0h0m2 0h0m7 0h0m38 0h0m-133 1h3m2 0h35m2 0h1m5 0h1m2 0h0m4 0h0m3 0h1m5 0h1m5 0h0m2 0h0m3 0h1m2 0h0m2 0h1m5 0h0m4 0h0m5 0h0m-95 1h0m2 0h32m2 0h5m2 0h3m3 0h2m2 0h1m4 0h0m3 0h0m2 0h0m2 0h1m4 0h1m3 0h1m3 0h0m2 0h0m2 0h0m2 0h0m4 0h0m-88 1h6m2 0h27m2 0h6m2 0h1m2 0h0m6 0h0m2 0h1m2 0h3m3 0h0m2 0h1m2 0h1m5 0h1m3 0h0m3 0h2m2 0h0m19 0h0m-106 1h0m2 0h36m2 0h2m2 0h1m2 0h0m4 0h0m2 0h2m2 0h0m2 0h1m3 0h2m2 0h0m4 0h1m6 0h0m4 0h0m6 0h0m16 0h0m-104 1h5m2 0h23m2 0h7m3 0h3m3 0h3m2 0h0m2 0h1m3 0h0m7 0h0m4 0h0m3 0h0m4 0h0m2 0h0m2 0h1m7 0h0m-89 1h0m2 0h0m2 0h33m2 0h1m6 0h2m6 0h0m7 0h0m2 0h1m2 0h1m3 0h1m3 0h0m9 0h0m-83 1h0m2 0h30m2 0h4m2 0h0m3 0h0m2 0h3m7 0h1m4 0h0m2 0h2m10 0h0m5 0h1m2 0h0m3 0h0m15 0h0m-100 1h8m2 0h24m2 0h1m2 0h2m4 0h2m2 0h0m3 0h1m7 0h2m4 0h2m26 0h0m-94 1h1m2 0h7m2 0h14m2 0h4m2 0h6m2 0h0m8 0h0m8 0h0m6 0h0m2 0h0m5 0h0m3 0h0m2 0h0m9 0h1m17 0h0m-103 1h1m3 0h0m2 0h9m2 0h8m2 0h6m5 0h2m2 0h0m12 0h0m5 0h0m2 0h1m6 0h0m4 0h1m17 0h0m3 0h1m-94 1h5m2 0h0m3 0h1m2 0h7m2 0h1m2 0h2m3 0h0m2 0h3m3 0h1m2 0h0m7 0h0m3 0h0m5 0h0m4 0h0m8 0h0m6 0h1m2 0h2m5 0h0m2 0h0m-86 1h0m2 0h0m2 0h0m2 0h1m3 0h1m2 0h15m7 0h0m7 0h0m5 0h1m8 0h0m12 0h0m16 0h0m-84 1h0m2 0h0m5 0h0m2 0h7m3 0h0m2 0h1m2 0h2m2 0h0m2 0h1m3 0h2m6 0h0m3 0h0m5 0h0m4 0h1m3 0h0m9 0h0m9 0h0m6 0h0m2 0h2m-86 1h0m3 0h1m2 0h3m2 0h1m3 0h1m2 0h3m2 0h2m2 0h1m2 0h0m2 0h1m2 0h0m4 0h0m29 0h0m-68 1h35m2 0h1m2 0h1m2 0h0m5 0h1m14 0h0m3 0h0m2 0h1m2 0h0m2 0h0m9 0h0m3 0h0m4 0h0m14 0h0"/><path transform="translate(262.5 20.5)" d="M92 13h0m-42 7h0m35 1h0m34 1h0m-31 2h0m12 0h1m4 0h0m-9 1h0m2 0h0m-6 1h0m8 0h0m-17 1h0m18 0h0m-40 1h0m15 0h0m25 0h1m16 0h0m-47 1h0m18 0h0m-16 1h0m14 0h0m3 0h0m8 0h0m-21 1h0m7 0h0m-18 1h0m9 0h0m8 0h1m5 0h0m11 0h0m17 0h0m-35 1h0m9 0h0m10 0h0m-44 1h0m19 0h0m5 0h0m9 0h1m-19 1h0m3 0h0m3 0h0m7 0h0m19 0h0m2 0h1m-61 1h0m20 0h0m7 0h0m18 0h0m2 0h0m3 0h0m8 0h0m-46 1h0m4 0h0m11 0h0m10 0h0m2 0h1m19 0h0m-57 1h0m18 0h1m6 0h0m10 0h2m13 0h0m-56 1h0m13 0h0m17 0h0m7 0h0m3 0h0m10 0h0m2 0h0m4 0h0m7 0h0m-60 1h0m32 0h1m3 0h0m13 0h0m3 0h0m5 0h0m-52 1h0m9 0h0m13 0h0m4 0h0m4 0h1m9 0h0m2 0h0m2 0h0m4 0h0m6 0h0m10 0h0m-100 1h0m36 0h0m4 0h0m5 0h0m7 0h0m2 0h0m6 0h1m2 0h1m2 0h0m5 0h0m4 0h0m9 0h0m2 0h0m7 0h0m10 0h0m-79 1h0m14 0h0m10 0h0m4 0h0m5 0h0m3 0h1m5 0h1m3 0h0m4 0h2m8 0h0m9 0h0m5 0h0m-87 1h0m21 0h0m20 0h0m3 0h1m3 0h0m7 0h0m5 0h0m4 0h0m11 0h0m3 0h0m11 0h0m4 0h0m-79 1h0m6 0h0m9 0h3m2 0h0m5 0h2m8 0h1m5 0h1m2 0h0m2 0h2m2 0h0m7 0h2m9 0h0m7 0h0m-66 1h0m3 0h0m8 0h0m8 0h0m3 0h0m4 0h0m2 0h0m4 0h0m18 0h1m3 0h0m-65 1h0m4 0h0m14 0h0m8 0h0m5 0h1m3 0h0m5 0h0m2 0h1m2 0h0m18 0h1m7 0h0m11 0h0m-95 1h0m19 0h0m6 0h1m5 0h0m3 0h2m5 0h0m3 0h0m8 0h0m2 0h1m3 0h0m2 0h4m2 0h0m17 0h0m-74 1h0m2 0h0m12 0h1m7 0h0m5 0h0m9 0h0m5 0h0m6 0h0m3 0h1m3 0h0m2 0h0m3 0h0m4 0h1m4 0h0m4 0h0m-73 1h0m6 0h0m7 0h0m6 0h0m3 0h0m4 0h0m2 0h0m7 0h0m3 0h0m3 0h1m4 0h5m5 0h0m3 0h0m3 0h1m4 0h0m5 0h0m11 0h0m-71 1h0m15 0h0m9 0h1m12 0h1m5 0h0m8 0h0m5 0h0m2 0h0m-100 1h0m26 0h0m6 0h0m4 0h1m16 0h0m2 0h1m2 0h1m6 0h2m2 0h0m4 0h0m2 0h0m6 0h0m2 0h0m2 0h0m2 0h2m4 0h0m5 0h0m6 0h0m-77 1h0m4 0h1m4 0h0m3 0h0m3 0h1m5 0h0m10 0h1m2 0h0m5 0h2m5 0h0m3 0h2m2 0h0m4 0h2m5 0h0m10 0h0m11 0h0m-102 1h0m13 0h1m7 0h0m9 0h0m7 0h0m2 0h0m6 0h1m8 0h5m5 0h2m2 0h1m3 0h0m4 0h1m8 0h0m8 0h1m11 0h0m-109 1h0m13 0h0m9 0h0m3 0h0m4 0h1m4 0h1m4 0h1m5 0h1m5 0h0m4 0h2m3 0h0m2 0h0m4 0h0m4 0h1m6 0h0m4 0h0m2 0h0m10 0h0m14 0h0m-88 1h1m5 0h1m9 0h0m3 0h0m13 0h0m3 0h0m3 0h0m5 0h0m6 0h1m2 0h0m2 0h0m6 0h0m4 0h0m12 0h0m6 0h0m2 0h0m-105 1h0m20 0h0m2 0h0m6 0h1m2 0h0m3 0h1m2 0h1m3 0h0m2 0h2m4 0h0m5 0h0m4 0h2m2 0h1m2 0h2m4 0h2m4 0h0m2 0h0m4 0h0m9 0h1m5 0h0m-71 1h1m5 0h0m2 0h0m9 0h0m3 0h0m2 0h0m5 0h0m5 0h0m3 0h0m5 0h4m2 0h1m2 0h1m2 0h0m3 0h1m2 0h1m2 0h0m6 0h0m-80 1h0m4 0h0m9 0h1m2 0h0m4 0h0m3 0h0m2 0h0m2 0h0m2 0h3m2 0h3m2 0h4m3 0h0m2 0h0m3 0h2m2 0h1m4 0h0m2 0h1m3 0h0m3 0h0m5 0h0m5 0h0m5 0h0m9 0h0m2 0h0m-92 1h0m7 0h0m3 0h0m4 0h1m7 0h0m5 0h0m2 0h1m2 0h0m2 0h0m2 0h0m8 0h2m6 0h0m2 0h1m3 0h0m4 0h0m3 0h0m2 0h0m3 0h0m6 0h0m-78 1h0m9 0h0m4 0h0m2 0h1m2 0h4m3 0h0m3 0h0m3 0h1m3 0h1m2 0h0m2 0h2m2 0h0m7 0h0m3 0h0m8 0h3m5 0h0m9 0h0m-77 1h0m5 0h0m3 0h0m3 0h0m2 0h0m2 0h0m9 0h0m3 0h0m2 0h0m2 0h0m3 0h0m2 0h0m5 0h0m5 0h1m5 0h0m3 0h0m2 0h0m5 0h0m5 0h1m7 0h0m-94 1h0m16 0h1m2 0h0m4 0h0m3 0h0m3 0h0m4 0h0m3 0h0m2 0h0m3 0h3m2 0h2m3 0h0m3 0h1m2 0h3m2 0h1m4 0h1m3 0h0m4 0h0m7 0h0m6 0h0m-87 1h0m12 0h0m3 0h0m3 0h0m4 0h2m3 0h0m2 0h0m2 0h0m5 0h3m4 0h1m6 0h0m4 0h0m2 0h2m5 0h2m3 0h1m2 0h1m2 0h0m3 0h0m5 0h0m10 0h0m-80 1h1m5 0h0m3 0h1m4 0h0m2 0h0m2 0h0m2 0h0m2 0h0m5 0h0m2 0h0m3 0h3m2 0h1m2 0h2m2 0h0m3 0h0m2 0h5m2 0h0m2 0h1m6 0h2m16 0h0m4 0h0m3 0h0m-102 1h1m10 0h4m2 0h0m4 0h1m3 0h1m4 0h0m4 0h3m3 0h2m2 0h4m5 0h0m2 0h1m2 0h1m8 0h0m4 0h0m4 0h0m2 0h0m-63 1h0m2 0h0m4 0h0m2 0h0m3 0h0m2 0h2m2 0h1m2 0h4m4 0h2m2 0h4m2 0h3m2 0h0m2 0h1m2 0h2m2 0h0m8 0h1m3 0h0m3 0h0m3 0h0m8 0h0m3 0h0m14 0h0m-114 1h0m18 0h0m2 0h2m4 0h1m2 0h0m2 0h0m2 0h3m4 0h5m2 0h1m5 0h0m4 0h0m2 0h0m2 0h2m4 0h0m4 0h1m3 0h0m5 0h0m12 0h0m7 0h0m-97 1h0m7 0h0m2 0h0m4 0h0m2 0h0m8 0h3m2 0h0m4 0h6m3 0h2m2 0h6m2 0h0m3 0h0m2 0h3m3 0h1m3 0h0m4 0h0m2 0h1m4 0h1m2 0h0m4 0h1m13 0h0m-101 1h0m4 0h0m2 0h0m11 0h0m3 0h0m6 0h0m3 0h2m4 0h0m2 0h2m3 0h1m2 0h1m4 0h0m2 0h0m2 0h2m3 0h1m4 0h0m3 0h1m3 0h0m2 0h0m2 0h0m5 0h0m2 0h0m3 0h0m13 0h0m2 0h0m-99 1h0m4 0h0m10 0h0m3 0h6m5 0h3m4 0h0m2 0h0m2 0h0m2 0h2m3 0h3m2 0h0m3 0h2m3 0h0m3 0h3m2 0h1m4 0h0m2 0h0m2 0h0m7 0h0m7 0h0m-92 1h0m5 0h1m8 0h1m4 0h0m8 0h0m3 0h3m2 0h0m2 0h0m2 0h0m4 0h7m2 0h0m2 0h8m2 0h0m2 0h2m9 0h0m3 0h0m2 0h0m9 0h0m5 0h0m7 0h0m-88 1h0m3 0h1m6 0h0m3 0h3m2 0h0m2 0h0m2 0h3m2 0h0m7 0h0m2 0h0m2 0h0m2 0h1m4 0h1m4 0h3m6 0h1m5 0h0m9 0h0m3 0h0m-81 1h0m6 0h2m5 0h0m3 0h1m3 0h5m2 0h1m2 0h1m3 0h0m2 0h1m2 0h2m2 0h0m2 0h5m2 0h1m2 0h0m3 0h0m2 0h0m2 0h0m2 0h1m18 0h0m5 0h0m-99 1h0m14 0h2m3 0h1m2 0h3m2 0h3m2 0h2m3 0h8m2 0h0m4 0h0m6 0h0m2 0h1m6 0h0m5 0h1m3 0h1m32 0h0m-91 1h2m2 0h0m2 0h2m2 0h9m2 0h1m2 0h0m3 0h5m3 0h3m2 0h1m2 0h0m3 0h0m3 0h2m2 0h0m4 0h1m2 0h0m2 0h0m4 0h0m16 0h0m-99 1h0m3 0h0m3 0h0m3 0h1m2 0h0m3 0h2m2 0h0m2 0h1m2 0h2m2 0h0m2 0h9m2 0h0m2 0h0m2 0h4m2 0h0m2 0h0m2 0h2m2 0h0m4 0h0m2 0h0m2 0h0m2 0h0m5 0h0m3 0h0m6 0h0m-82 1h1m9 0h2m2 0h0m2 0h0m3 0h3m2 0h8m2 0h1m2 0h1m2 0h3m2 0h1m3 0h0m3 0h2m3 0h0m2 0h1m2 0h0m7 0h0m3 0h1m2 0h1m4 0h0m4 0h0m-85 1h0m4 0h0m5 0h1m3 0h0m2 0h11m2 0h20m2 0h0m2 0h1m2 0h0m3 0h1m2 0h0m2 0h0m4 0h4m6 0h0m3 0h0m21 0h0m-101 1h1m3 0h0m2 0h0m2 0h1m2 0h0m2 0h7m3 0h6m3 0h9m2 0h0m2 0h1m3 0h4m2 0h0m6 0h0m4 0h2m3 0h0m6 0h0m-76 1h1m2 0h0m9 0h4m3 0h15m3 0h0m3 0h13m4 0h2m6 0h0m2 0h1m5 0h0m2 0h0m-74 1h0m5 0h1m3 0h0m2 0h1m2 0h5m2 0h0m2 0h5m2 0h3m2 0h0m2 0h13m2 0h0m2 0h0m2 0h0m2 0h0m2 0h0m4 0h0m2 0h3m2 0h0m10 0h0m5 0h0m-84 1h0m6 0h13m2 0h5m2 0h18m2 0h0m2 0h4m2 0h3m2 0h1m2 0h0m3 0h3m2 0h0m3 0h0m2 0h0m-80 1h0m6 0h0m2 0h0m2 0h38m4 0h4m3 0h1m2 0h0m3 0h0m2 0h1m3 0h0m9 0h0m-80 1h0m2 0h1m3 0h0m2 0h48m2 0h1m2 0h0m2 0h1m5 0h0m8 0h1m3 0h0m-81 1h0m5 0h0m4 0h0m2 0h4m2 0h1m2 0h17m2 0h3m2 0h2m2 0h1m2 0h0m2 0h1m2 0h0m2 0h0m3 0h1m7 0h1m2 0h1m11 0h0m-81 1h44m2 0h6m2 0h0m2 0h1m3 0h0m2 0h0m2 0h0m2 0h3m9 0h0m-81 1h0m3 0h5m2 0h25m2 0h9m2 0h6m4 0h0m4 0h0m4 0h1m4 0h0m5 0h0m-76 1h1m2 0h1m3 0h44m2 0h2m5 0h2m3 0h0m6 0h1m16 0h0m-88 1h0m4 0h0m2 0h43m2 0h0m2 0h1m2 0h3m4 0h2m3 0h0m5 0h0m-73 1h1m2 0h2m3 0h0m2 0h44m4 0h1m2 0h0m2 0h0m2 0h3m4 0h0m2 0h0m21 0h0m-95 1h0m2 0h1m2 0h1m2 0h39m3 0h5m4 0h3m4 0h0m7 0h0m2 0h0m3 0h0m2 0h0m2 0h0m-82 1h1m2 0h2m2 0h6m2 0h37m3 0h5m3 0h1m3 0h0m2 0h0m3 0h0m2 0h0m-74 1h1m6 0h43m2 0h4m2 0h1m3 0h0m2 0h1m4 0h1m4 0h1m-75 1h2m2 0h1m2 0h42m2 0h2m6 0h1m3 0h0m2 0h2m2 0h1m9 0h0m-79 1h0m2 0h52m2 0h1m3 0h1m5 0h0m2 0h2m5 0h0m5 0h0m-77 1h42m2 0h3m2 0h0m3 0h1m2 0h1m3 0h2m3 0h0m3 0h0m2 0h0m6 0h0m7 0h1m-86 1h0m3 0h46m2 0h0m2 0h5m3 0h1m4 0h0m3 0h0m3 0h0m6 0h0m5 0h0m10 0h0m-93 1h0m2 0h0m2 0h44m3 0h3m2 0h1m3 0h1m2 0h1m2 0h0m5 0h0m-71 1h2m2 0h3m2 0h41m2 0h5m2 0h1m4 0h0m6 0h0m3 0h1m4 0h0m-78 1h2m2 0h44m2 0h3m3 0h3m4 0h2m2 0h0m4 0h0m3 0h0m-74 1h2m2 0h42m3 0h2m2 0h1m2 0h1m3 0h0m9 0h3m4 0h0m-76 1h4m3 0h44m3 0h1m2 0h1m3 0h3m2 0h1m2 0h0m4 0h0m4 0h0m2 0h0m12 0h0m-91 1h0m4 0h0m2 0h50m2 0h0m4 0h1m4 0h2m-69 1h3m2 0h47m2 0h0m2 0h0m6 0h1m3 0h0m2 0h0m13 0h0m7 0h0m-88 1h0m3 0h5m2 0h37m3 0h6m4 0h0m4 0h0m2 0h0m7 0h1m-74 1h0m2 0h40m2 0h7m3 0h0m2 0h1m3 0h1m3 0h0m2 0h0m3 0h1m-70 1h0m2 0h0m2 0h0m2 0h37m2 0h1m2 0h2m3 0h0m2 0h1m2 0h0m2 0h0m5 0h0m3 0h0m4 0h1m5 0h0m5 0h0m3 0h0m3 0h0m-89 1h3m2 0h44m2 0h0m4 0h3m13 0h0m7 0h0m-78 1h2m2 0h0m4 0h44m5 0h0m2 0h1m3 0h0m4 0h0m3 0h0m3 0h0m6 0h0m-79 1h0m2 0h1m3 0h0m2 0h10m2 0h23m2 0h1m2 0h1m2 0h0m2 0h0m7 0h0m23 0h0m-83 1h0m4 0h8m2 0h26m2 0h3m2 0h1m2 0h1m3 0h0m2 0h0m5 0h0m2 0h0m5 0h0m4 0h0m2 0h0m4 0h0m5 0h0m17 0h0m-100 1h1m4 0h36m2 0h5m2 0h0m4 0h0m4 0h1m2 0h0m6 0h0m4 0h0m4 0h2m3 0h0m-80 1h0m2 0h0m2 0h1m2 0h2m2 0h29m2 0h5m3 0h2m3 0h0m3 0h1m4 0h1m5 0h0m4 0h0m2 0h0m8 0h0m-83 1h0m4 0h2m3 0h2m2 0h31m2 0h4m2 0h0m2 0h1m4 0h1m3 0h0m2 0h0m7 0h0m5 0h0m-72 1h1m2 0h1m2 0h1m2 0h26m2 0h7m2 0h0m7 0h0m3 0h1m6 0h0m3 0h0m-71 1h0m7 0h1m3 0h0m3 0h1m2 0h23m4 0h2m2 0h1m3 0h3m2 0h0m5 0h0m11 0h0m6 0h0m15 0h0m-94 1h1m4 0h0m3 0h3m2 0h1m2 0h26m2 0h5m18 0h0m7 0h0m6 0h0m2 0h0m-82 1h1m4 0h1m5 0h0m2 0h0m2 0h9m3 0h4m2 0h1m2 0h5m2 0h3m2 0h0m3 0h0m3 0h2m2 0h0m8 0h0m3 0h0m8 0h0m-77 1h0m2 0h0m2 0h0m6 0h3m2 0h0m2 0h15m2 0h3m2 0h1m2 0h0m2 0h1m2 0h0m5 0h0m16 0h0m2 0h1m-71 1h0m4 0h0m5 0h0m2 0h3m2 0h1m2 0h6m2 0h3m2 0h0m4 0h0m4 0h1m2 0h0m6 0h0m2 0h3m4 0h1m26 0h0m-83 1h0m6 0h1m2 0h0m3 0h3m2 0h9m2 0h0m3 0h7m3 0h0m3 0h1m4 0h0m3 0h0m2 0h0m3 0h0m3 0h0m-62 1h0m6 0h1m3 0h0m2 0h0m3 0h1m2 0h3m2 0h5m2 0h1m2 0h0m2 0h0m3 0h1m4 0h3m2 0h0m2 0h0m20 0h0m-70 1h2m2 0h29m2 0h13m2 0h4m2 0h3m4 0h6m2 0h0m4 0h1m3 0h0m7 0h0"/><path transform="translate(82.5 200.5)" d="M113 21h0m-11 4h0m-1 5h0m4 1h0m2 3h0m-12 1h0m15 0h0m-9 3h0m-15 1h0m4 0h0m11 0h0m-4 2h0m11 0h0m2 0h0m-20 1h0m-2 1h0m-3 3h0m3 2h0m6 0h0m-26 1h0m10 1h0m19 0h0m4 0h0m-21 1h0m15 0h0m-37 1h0m12 0h0m5 0h0m23 0h1m-29 1h0m22 0h0m8 0h0m-37 1h0m2 0h0m29 0h0m-30 1h0m39 0h0m-44 1h0m27 0h0m2 0h0m6 0h0m-30 1h0m35 1h0m-10 1h0m5 0h0m-10 1h0m-6 1h0m-78 1h0m58 0h0m-52 1h0m25 0h0m35 0h0m-38 1h0m5 0h0m3 0h0m17 0h0m14 0h0m12 0h0m15 0h0m-60 1h0m14 1h0m6 0h0m4 0h0m14 0h0m-70 1h0m48 0h0m4 0h0m13 0h0m20 0h0m-53 1h0m9 0h0m10 0h0m2 0h0m3 0h0m6 0h0m2 0h0m16 0h0m-74 1h0m27 0h0m11 0h0m15 0h1m10 0h0m-36 1h0m11 0h0m9 0h0m8 0h0m5 0h1m-48 1h0m5 0h0m7 0h0m2 0h1m5 0h0m23 0h0m4 0h0m8 0h0m-56 1h0m11 0h0m19 0h0m11 0h0m7 0h0m12 0h0m-81 1h0m33 0h0m17 0h0m4 0h1m2 0h0m6 0h0m6 0h0m4 0h0m8 0h0m-81 1h0m18 0h0m18 0h0m3 0h0m7 0h0m8 0h1m2 0h1m5 0h0m4 0h3m-66 1h0m31 0h0m14 0h1m6 0h0m2 0h0m11 0h0m6 0h1m2 0h0m-78 1h0m21 0h0m7 0h0m3 0h2m2 0h0m22 0h0m3 0h1m3 0h1m4 0h0m5 0h0m5 0h0m-75 1h0m6 0h0m20 0h0m2 0h0m2 0h1m13 0h1m4 0h0m2 0h0m3 0h0m6 0h0m12 0h0m-76 1h0m5 0h0m11 0h0m14 0h1m12 0h0m6 0h0m4 0h0m2 0h1m16 0h0m-72 1h0m4 0h0m7 0h2m12 0h0m3 0h2m2 0h1m2 0h0m6 0h0m2 0h0m8 0h0m3 0h1m5 0h1m5 0h0m10 0h0m-76 1h0m13 0h1m15 0h0m3 0h1m5 0h0m5 0h0m2 0h0m6 0h3m7 0h0m-43 1h2m7 0h0m4 0h0m7 0h0m6 0h0m5 0h0m5 0h1m6 0h0m3 0h0m7 0h1m5 0h0m2 0h0m-73 1h0m3 0h0m2 0h0m12 0h0m4 0h0m2 0h1m2 0h0m4 0h0m5 0h1m9 0h0m2 0h1m8 0h0m8 0h2m12 0h0m3 0h0m-87 1h0m20 0h0m2 0h0m7 0h7m3 0h1m2 0h0m2 0h0m3 0h2m5 0h0m18 0h0m-72 1h0m14 0h0m3 0h0m2 0h0m7 0h0m3 0h1m3 0h2m2 0h0m2 0h0m5 0h0m3 0h0m7 0h0m4 0h0m7 0h1m3 0h0m4 0h0m-73 1h0m9 0h0m5 0h1m4 0h0m3 0h0m4 0h1m3 0h5m3 0h1m8 0h0m4 0h2m5 0h0m4 0h0m5 0h0m-67 1h0m6 0h0m8 0h0m9 0h1m2 0h5m3 0h2m16 0h0m2 0h2m8 0h1m3 0h1m-69 1h0m6 0h0m3 0h1m6 0h0m4 0h0m3 0h0m2 0h2m2 0h9m4 0h0m3 0h1m16 0h0m13 0h0m-75 1h0m2 0h1m2 0h0m4 0h0m4 0h3m6 0h0m2 0h0m3 0h1m3 0h3m2 0h0m3 0h0m3 0h0m4 0h1m2 0h5m2 0h0m8 0h0m4 0h0m8 0h0m-76 1h0m10 0h2m3 0h2m3 0h1m6 0h8m3 0h0m2 0h0m2 0h0m2 0h0m4 0h0m2 0h0m10 0h0m5 0h0m-63 1h0m12 0h0m2 0h5m3 0h0m2 0h1m3 0h3m2 0h0m2 0h0m5 0h0m4 0h1m9 0h2m13 0h0m-71 1h2m3 0h0m3 0h0m2 0h5m2 0h1m3 0h0m7 0h9m6 0h0m3 0h0m5 0h3m2 0h2m3 0h0m10 0h0m-71 1h0m3 0h0m4 0h0m2 0h0m3 0h0m2 0h0m3 0h0m2 0h0m4 0h0m2 0h10m8 0h1m4 0h0m14 0h0m4 0h0m2 0h0m4 0h0m-72 1h0m8 0h3m5 0h8m3 0h11m2 0h0m4 0h0m6 0h0m5 0h0m6 0h0m5 0h0m-66 1h0m6 0h6m3 0h0m2 0h0m2 0h6m3 0h9m4 0h0m5 0h0m6 0h0m7 0h1m3 0h0m9 0h1m-73 1h1m2 0h0m3 0h1m2 0h2m2 0h9m2 0h2m2 0h7m2 0h1m2 0h2m2 0h0m3 0h1m2 0h0m16 0h0m-66 1h1m3 0h0m3 0h3m2 0h1m2 0h9m2 0h8m2 0h2m3 0h0m2 0h0m3 0h0m5 0h0m6 0h0m3 0h0m7 0h0m-67 1h0m3 0h0m2 0h31m5 0h1m2 0h0m4 0h1m4 0h1m3 0h0m6 0h0m5 0h0m-68 1h16m3 0h4m2 0h6m2 0h6m2 0h0m2 0h2m2 0h0m6 0h0m3 0h0m17 0h0m-73 1h3m4 0h22m2 0h3m2 0h3m2 0h0m2 0h0m2 0h2m4 0h0m2 0h3m6 0h0m5 0h1m2 0h0m-70 1h1m2 0h30m2 0h1m2 0h1m2 0h1m2 0h0m2 0h1m2 0h3m10 0h1m29 0h0m-92 1h24m2 0h21m2 0h1m7 0h0m12 0h0m-69 1h36m2 0h0m2 0h5m2 0h2m2 0h0m4 0h0m9 0h0m2 0h0m7 0h0m7 0h0m-80 1h34m2 0h1m2 0h3m4 0h0m3 0h1m3 0h0m2 0h0m-55 1h45m5 0h1m5 0h0m45 0h1m4 0h0m-106 1h39m2 0h5m2 0h0m2 0h0m2 0h2m-54 1h49m2 0h0m2 0h7m8 0h0m7 0h0m-75 1h43m2 0h1m2 0h0m3 0h0m3 0h0m2 0h1m4 0h1m2 0h0m27 0h0m-91 1h48m2 0h3m2 0h1m9 0h0m5 0h0m-70 1h39m2 0h2m2 0h1m4 0h0m2 0h0m11 0h0m2 0h0m-65 1h50m2 0h0m3 0h1m6 0h0m4 0h0m18 0h0m7 0h0m11 0h0m2 0h0m-104 1h41m2 0h4m2 0h0m4 0h1m3 0h0m2 0h0m11 0h0m5 0h0m2 0h0m-77 1h43m2 0h1m2 0h0m2 0h0m2 0h2m3 0h1m2 0h0m9 0h0m-69 1h44m2 0h4m2 0h2m4 0h0m5 0h0m-63 1h38m2 0h3m2 0h3m2 0h3m6 0h0m8 0h0m18 0h0m-85 1h42m2 0h2m2 0h4m2 0h0m4 0h0m3 0h0m-61 1h40m2 0h4m2 0h0m3 0h0m32 0h1m22 0h0m-106 1h43m2 0h0m3 0h0m2 0h0m6 0h0m10 0h0m3 0h0m9 0h0m4 0h0m-82 1h51m2 0h0m6 0h0m3 0h0m24 0h0m16 0h0m-102 1h40m2 0h0m2 0h0m2 0h0m2 0h3m8 0h0m4 0h1m-64 1h42m2 0h2m2 0h1m2 0h3m2 0h0m-56 1h44m2 0h0m2 0h0m2 0h0m12 0h0m4 0h0m-66 1h42m2 0h4m5 0h0m3 0h1m41 0h1m-99 1h30m2 0h9m2 0h2m3 0h0m3 0h0m2 0h0m2 0h0m2 0h0m8 0h0m-65 1h46m2 0h0m2 0h6m2 0h0m4 0h2m4 0h0m8 0h0m34 0h0"/><path transform="translate(262.5 200.5)" d="M113 8h0m6 8h0m-7 9h0m14 0h0m-13 2h0m2 0h0m-18 1h0m8 1h0m4 1h0m-8 1h0m-26 1h0m10 0h0m27 1h0m16 0h0m-24 1h0m3 0h0m6 0h1m-23 1h0m5 0h0m3 0h0m3 0h0m12 0h0m8 0h0m11 0h0m-57 1h0m18 0h0m9 0h0m2 0h0m3 0h3m-37 1h0m4 0h0m12 0h0m33 0h0m-31 1h0m9 0h0m2 0h0m30 0h0m-95 1h0m39 0h0m11 0h0m8 0h1m11 0h0m2 0h0m-56 1h0m18 0h0m8 0h0m11 0h0m2 0h0m30 0h0m-49 1h0m29 0h0m2 0h0m12 0h0m-45 1h0m16 0h0m2 0h1m18 0h0m12 0h0m-35 1h0m6 0h1m4 0h0m4 0h0m2 0h0m-26 1h0m5 0h0m6 0h0m2 0h1m8 0h0m8 0h1m-61 1h0m25 0h0m12 0h0m2 0h0m6 0h1m2 0h1m4 0h0m5 0h0m8 0h0m-68 1h0m13 0h0m19 0h0m16 0h0m2 0h0m4 0h0m11 0h0m-41 1h0m17 0h0m4 0h0m2 0h0m11 0h0m2 0h0m12 0h0m-50 1h0m4 0h0m2 0h0m7 0h0m4 0h0m7 0h0m3 0h1m2 0h0m5 0h0m2 0h0m5 0h0m6 0h0m5 0h0m-72 1h0m10 0h2m6 0h2m3 0h0m5 0h0m10 0h0m2 0h0m3 0h0m2 0h2m3 0h1m4 0h0m5 0h1m3 0h0m-49 1h0m11 0h1m3 0h2m4 0h0m5 0h1m3 0h0m2 0h0m3 0h0m2 0h0m23 0h0m4 0h0m-81 1h0m13 0h0m4 0h0m7 0h1m2 0h1m5 0h0m2 0h0m4 0h0m10 0h0m6 0h0m-46 1h0m4 0h2m2 0h0m4 0h1m2 0h0m3 0h0m6 0h0m2 0h0m4 0h0m6 0h0m2 0h1m6 0h0m6 0h0m3 0h0m-71 1h0m7 0h0m11 0h1m17 0h0m9 0h0m11 0h0m3 0h0m-55 1h0m7 0h0m14 0h0m10 0h2m2 0h0m2 0h2m3 0h0m2 0h0m6 0h0m2 0h0m3 0h0m3 0h0m12 0h0m20 0h0m-89 1h0m8 0h0m9 0h0m3 0h0m5 0h0m2 0h0m3 0h0m4 0h1m5 0h0m2 0h0m2 0h0m7 0h0m6 0h0m6 0h1m2 0h0m9 0h0m-60 1h0m7 0h0m2 0h0m2 0h0m3 0h0m2 0h0m2 0h0m2 0h0m8 0h2m2 0h1m3 0h0m6 0h0m2 0h0m8 0h0m-53 1h1m4 0h0m3 0h1m8 0h0m4 0h0m2 0h1m2 0h0m2 0h1m2 0h1m2 0h0m5 0h3m8 0h0m4 0h0m3 0h0m-79 1h0m9 0h0m5 0h0m4 0h0m7 0h1m3 0h0m3 0h6m4 0h0m2 0h0m2 0h0m4 0h0m2 0h0m6 0h0m2 0h1m4 0h1m13 0h0m-72 1h0m3 0h0m2 0h0m2 0h0m4 0h0m8 0h0m2 0h0m5 0h0m4 0h0m8 0h2m3 0h0m2 0h0m2 0h0m3 0h0m5 0h1m10 0h0m-70 1h0m6 0h0m4 0h1m4 0h0m3 0h0m3 0h0m4 0h0m3 0h1m2 0h0m4 0h0m3 0h0m6 0h0m2 0h1m5 0h1m2 0h0m5 0h0m2 0h0m7 0h0m10 0h0m-74 1h0m3 0h0m3 0h0m3 0h0m5 0h0m3 0h0m2 0h0m2 0h2m2 0h1m2 0h0m3 0h0m3 0h0m2 0h0m2 0h0m6 0h1m3 0h0m2 0h0m7 0h1m8 0h0m-85 1h0m5 0h0m16 0h0m6 0h1m10 0h13m2 0h0m2 0h0m3 0h1m2 0h0m6 0h0m10 0h0m-75 1h0m14 0h1m2 0h1m8 0h0m2 0h1m2 0h0m2 0h0m2 0h1m5 0h3m2 0h1m2 0h0m5 0h0m5 0h0m2 0h1m8 0h0m5 0h0m8 0h0m12 0h0m-96 1h0m5 0h0m17 0h0m4 0h2m9 0h0m2 0h1m2 0h0m2 0h1m2 0h0m3 0h2m4 0h0m2 0h0m2 0h0m2 0h0m2 0h1m3 0h0m3 0h1m2 0h0m4 0h0m2 0h0m-69 1h0m6 0h0m3 0h0m2 0h0m3 0h0m9 0h0m3 0h0m2 0h5m3 0h1m5 0h0m2 0h0m2 0h0m4 0h0m2 0h0m6 0h0m6 0h0m-99 1h0m11 0h0m15 0h0m5 0h0m3 0h0m2 0h0m6 0h0m5 0h1m2 0h1m3 0h0m2 0h0m4 0h0m3 0h2m2 0h0m2 0h0m3 0h2m3 0h1m3 0h2m13 0h0m3 0h0m18 0h0m-95 1h0m5 0h1m10 0h0m3 0h1m11 0h0m2 0h0m3 0h1m5 0h0m3 0h3m2 0h1m3 0h0m2 0h0m2 0h1m5 0h0m4 0h0m4 0h0m4 0h1m14 0h0m-103 1h0m14 0h1m6 0h0m3 0h0m6 0h1m3 0h0m3 0h1m2 0h0m3 0h0m2 0h0m4 0h1m2 0h0m3 0h1m3 0h0m2 0h1m3 0h1m2 0h0m3 0h1m4 0h0m17 0h0m-79 1h0m4 0h0m9 0h0m9 0h0m3 0h0m3 0h1m5 0h3m2 0h0m2 0h1m2 0h0m2 0h1m2 0h5m7 0h1m7 0h0m7 0h0m7 0h0m-70 1h0m2 0h1m3 0h0m3 0h0m3 0h0m2 0h0m3 0h0m2 0h1m2 0h2m2 0h1m2 0h1m3 0h0m4 0h0m2 0h0m2 0h0m2 0h0m3 0h2m2 0h3m3 0h0m3 0h0m9 0h0m-81 1h0m17 0h2m4 0h1m3 0h0m2 0h0m3 0h1m2 0h0m2 0h1m5 0h5m4 0h2m5 0h0m2 0h0m2 0h1m7 0h0m4 0h0m6 0h0m-106 1h0m12 0h0m4 0h0m8 0h0m9 0h0m3 0h2m4 0h0m2 0h0m5 0h0m4 0h0m3 0h0m4 0h1m2 0h3m2 0h0m3 0h1m2 0h0m2 0h1m2 0h0m2 0h0m3 0h3m6 0h0m2 0h0m2 0h1m7 0h0m-97 1h0m8 0h1m16 0h0m5 0h0m5 0h1m3 0h0m3 0h0m2 0h0m2 0h1m3 0h2m2 0h2m6 0h1m3 0h0m2 0h3m3 0h1m8 0h0m6 0h0m3 0h0m3 0h1m-84 1h1m3 0h1m6 0h0m3 0h0m5 0h0m4 0h0m4 0h0m3 0h0m2 0h0m5 0h3m2 0h0m3 0h1m2 0h0m2 0h0m3 0h1m3 0h0m3 0h1m2 0h2m2 0h0m2 0h1m7 0h0m9 0h0m-78 1h0m2 0h0m11 0h2m3 0h0m2 0h1m2 0h2m3 0h2m3 0h3m4 0h9m2 0h0m4 0h0m3 0h0m2 0h0m5 0h1m-88 1h0m5 0h0m5 0h0m6 0h0m3 0h1m8 0h0m2 0h0m3 0h0m3 0h1m2 0h0m2 0h0m6 0h4m2 0h0m2 0h0m2 0h4m4 0h0m2 0h0m2 0h1m2 0h0m7 0h0m4 0h0m11 0h0m7 0h0m-97 1h0m2 0h0m9 0h1m2 0h0m6 0h0m2 0h3m11 0h0m3 0h0m3 0h1m2 0h0m3 0h4m2 0h2m3 0h1m3 0h3m5 0h0m3 0h0m-73 1h0m4 0h0m4 0h1m3 0h0m3 0h0m2 0h3m2 0h0m3 0h1m3 0h1m10 0h2m2 0h2m3 0h1m2 0h0m2 0h0m2 0h0m2 0h0m3 0h7m3 0h0m2 0h0m5 0h0m6 0h1m5 0h0m-83 1h0m2 0h1m2 0h0m5 0h0m4 0h0m2 0h1m3 0h0m3 0h0m3 0h0m3 0h1m5 0h2m2 0h0m2 0h0m2 0h0m2 0h0m2 0h1m2 0h2m4 0h1m2 0h1m2 0h0m4 0h0m5 0h1m3 0h0m11 0h0m6 0h0m6 0h0m-116 1h1m12 0h0m7 0h0m2 0h1m5 0h3m2 0h0m3 0h1m2 0h2m2 0h1m2 0h0m2 0h0m2 0h0m2 0h2m4 0h0m3 0h6m2 0h1m3 0h3m3 0h0m3 0h0m2 0h1m2 0h0m2 0h0m4 0h0m5 0h0m4 0h0m-102 1h0m12 0h0m12 0h0m2 0h0m9 0h2m2 0h0m2 0h0m3 0h0m2 0h1m4 0h0m4 0h0m2 0h0m4 0h0m2 0h1m2 0h1m2 0h5m3 0h0m10 0h1m3 0h2m8 0h0m-83 1h1m6 0h0m3 0h0m3 0h1m4 0h0m2 0h0m3 0h0m5 0h3m2 0h3m2 0h0m3 0h0m2 0h2m2 0h3m3 0h2m2 0h2m2 0h0m2 0h1m2 0h0m7 0h0m-90 1h0m11 0h0m2 0h1m10 0h1m3 0h0m9 0h0m3 0h2m2 0h5m2 0h2m2 0h2m2 0h1m4 0h1m2 0h3m3 0h0m2 0h2m4 0h0m2 0h1m6 0h1m5 0h0m-97 1h0m8 0h1m10 0h2m3 0h0m7 0h0m10 0h1m6 0h5m2 0h0m2 0h7m3 0h4m5 0h1m4 0h0m7 0h0m5 0h0m-83 1h1m9 0h0m3 0h1m3 0h0m4 0h3m2 0h0m5 0h2m2 0h1m10 0h0m3 0h3m3 0h1m4 0h0m2 0h3m6 0h0m6 0h0m10 0h0m-95 1h0m4 0h0m6 0h0m3 0h1m2 0h1m4 0h1m2 0h0m3 0h0m4 0h0m2 0h4m11 0h0m4 0h0m3 0h1m2 0h2m2 0h1m2 0h2m4 0h0m4 0h0m2 0h0m4 0h0m5 0h0m2 0h0m6 0h0m-96 1h0m12 0h1m4 0h1m4 0h0m3 0h0m3 0h0m2 0h0m5 0h1m2 0h1m3 0h0m3 0h0m3 0h3m2 0h2m2 0h1m2 0h2m4 0h0m2 0h0m2 0h1m2 0h0m4 0h2m15 0h0m3 0h0m-97 1h0m10 0h1m4 0h0m13 0h0m3 0h1m2 0h1m3 0h0m2 0h0m4 0h4m2 0h7m5 0h2m3 0h0m3 0h0m2 0h0m3 0h1m2 0h0m2 0h0m2 0h1m2 0h0m3 0h0m2 0h0m10 0h0m-100 1h0m6 0h0m12 0h0m3 0h2m5 0h0m4 0h0m7 0h0m2 0h0m2 0h0m3 0h6m3 0h1m2 0h0m2 0h0m2 0h2m2 0h2m2 0h0m3 0h3m2 0h0m3 0h0m2 0h0m2 0h0m3 0h0m-82 1h0m5 0h1m3 0h1m5 0h0m4 0h1m4 0h0m2 0h1m2 0h3m5 0h4m4 0h4m3 0h0m2 0h0m4 0h1m2 0h4m4 0h0m5 0h2m3 0h0m11 0h0m11 0h0m2 0h0m-93 1h0m2 0h4m4 0h0m2 0h1m2 0h2m3 0h0m2 0h2m2 0h0m4 0h6m2 0h1m3 0h0m2 0h1m2 0h1m2 0h0m7 0h0m3 0h0m5 0h0m3 0h0m5 0h0m6 0h0m-78 1h0m3 0h0m3 0h0m3 0h1m2 0h2m4 0h0m4 0h5m4 0h1m5 0h0m2 0h1m5 0h0m3 0h1m2 0h2m4 0h0m3 0h1m4 0h3m20 0h0m-102 1h0m8 0h0m2 0h0m5 0h1m3 0h1m2 0h3m3 0h2m2 0h0m5 0h1m2 0h1m3 0h3m2 0h2m2 0h1m2 0h3m5 0h1m2 0h1m4 0h0m3 0h1m2 0h1m3 0h0m2 0h0m-87 1h0m4 0h0m4 0h0m2 0h0m2 0h0m4 0h0m4 0h3m2 0h2m2 0h1m2 0h2m3 0h1m2 0h0m3 0h0m3 0h5m3 0h6m3 0h0m2 0h1m2 0h0m3 0h0m2 0h1m3 0h0m3 0h0m4 0h0m3 0h0m5 0h0m-92 1h0m3 0h2m6 0h0m4 0h1m2 0h3m4 0h3m2 0h1m2 0h1m3 0h2m2 0h0m2 0h3m2 0h2m2 0h0m2 0h6m4 0h2m2 0h2m3 0h0m2 0h1m8 0h0m3 0h0m-87 1h0m5 0h0m2 0h0m3 0h0m2 0h0m5 0h3m2 0h0m2 0h9m2 0h2m3 0h1m2 0h0m2 0h0m2 0h0m2 0h3m2 0h2m2 0h0m2 0h0m3 0h2m2 0h0m4 0h0m2 0h1m2 0h1m2 0h1m2 0h1m17 0h0m-100 1h0m2 0h1m5 0h0m6 0h1m2 0h1m2 0h4m2 0h0m2 0h0m2 0h29m2 0h0m2 0h0m2 0h1m2 0h0m4 0h0m4 0h3m2 0h0m5 0h0m8 0h0m-94 1h0m4 0h0m8 0h0m2 0h1m2 0h0m2 0h0m3 0h1m2 0h1m2 0h15m3 0h0m3 0h5m3 0h0m4 0h1m2 0h0m4 0h4m3 0h0m3 0h2m6 0h0m4 0h0m6 0h0m3 0h0m4 0h0m-103 1h1m2 0h0m5 0h0m2 0h0m3 0h5m2 0h21m2 0h6m2 0h1m2 0h1m2 0h3m2 0h2m2 0h3m3 0h0m2 0h0m2 0h2m3 0h0m2 0h0m4 0h0m2 0h0m-89 1h0m2 0h1m8 0h0m2 0h4m2 0h34m2 0h0m2 0h1m3 0h2m2 0h0m2 0h2m2 0h2m2 0h0m2 0h0m2 0h2m2 0h1m2 0h2m2 0h1m-91 1h0m3 0h1m3 0h1m3 0h0m4 0h35m2 0h1m2 0h8m2 0h0m2 0h1m2 0h4m2 0h0m2 0h0m3 0h0m7 0h0m6 0h0m-94 1h0m2 0h0m2 0h0m2 0h0m2 0h0m4 0h3m2 0h40m2 0h1m2 0h2m2 0h1m3 0h0m2 0h0m2 0h0m2 0h1m4 0h0m2 0h0m11 0h0m-94 1h0m4 0h0m2 0h3m2 0h0m2 0h36m2 0h3m2 0h2m3 0h0m2 0h3m2 0h1m2 0h11m9 0h0m3 0h0m-90 1h1m2 0h6m2 0h33m2 0h11m3 0h10m3 0h0m4 0h0m2 0h0m3 0h0m2 0h0m-88 1h0m4 0h1m3 0h0m2 0h43m2 0h6m2 0h2m2 0h1m2 0h3m2 0h0m3 0h1m4 0h0m-83 1h1m2 0h0m3 0h47m2 0h2m2 0h0m4 0h0m2 0h0m3 0h1m4 0h2m4 0h1m7 0h0m13 0h0m-100 1h1m3 0h0m3 0h1m2 0h1m2 0h36m2 0h8m2 0h0m2 0h1m3 0h4m2 0h0m2 0h0m4 0h0m4 0h0m9 0h0m7 0h0m2 0h0m-101 1h1m4 0h0m2 0h0m2 0h3m2 0h0m2 0h39m2 0h0m2 0h0m2 0h0m2 0h1m2 0h0m2 0h5m2 0h3m2 0h0m2 0h1m6 0h0m-89 1h0m2 0h1m3 0h0m2 0h1m3 0h0m2 0h39m2 0h4m2 0h14m9 0h0m4 0h0m25 0h0m-113 1h1m3 0h1m2 0h2m2 0h45m2 0h6m2 0h3m3 0h1m3 0h0m2 0h2m6 0h0m-86 1h0m3 0h0m2 0h1m2 0h46m2 0h12m3 0h0m4 0h0m7 0h2m11 0h0m28 0h0m-123 1h0m3 0h7m3 0h46m3 0h2m2 0h0m3 0h2m2 0h0m5 0h0m7 0h0m41 0h2m-128 1h1m2 0h1m4 0h53m3 0h2m2 0h1m3 0h1m3 0h1m2 0h0m4 0h0m8 0h0m24 0h0m-111 1h0m2 0h0m4 0h45m2 0h2m2 0h2m2 0h0m3 0h3m3 0h1m3 0h1m38 0h1m4 0h0m-122 1h0m2 0h0m2 0h0m2 0h2m2 0h0m2 0h0m2 0h37m2 0h3m2 0h5m2 0h1m3 0h0m7 0h1m4 0h2m5 0h0m36 0h0m-124 1h1m4 0h0m2 0h4m2 0h32m2 0h9m2 0h4m3 0h3m3 0h1m3 0h0m2 0h0m2 0h0m2 0h0m42 0h0m-123 1h3m2 0h0m2 0h0m3 0h0m2 0h6m2 0h30m2 0h6m3 0h1m3 0h1m2 0h1m4 0h1m3 0h0m2 0h0m40 0h0m-119 1h0m5 0h0m4 0h0m4 0h44m6 0h0m2 0h1m2 0h2m2 0h1m5 0h0m6 0h0m2 0h0m32 0h0m3 0h0m6 0h0m-127 1h1m3 0h0m2 0h0m3 0h1m2 0h1m2 0h0m2 0h4m2 0h29m2 0h0m3 0h8m2 0h0m2 0h0m2 0h0m6 0h1m2 0h0m5 0h0m38 0h0m-123 1h1m2 0h1m9 0h0m4 0h2m2 0h9m2 0h18m2 0h6m2 0h0m5 0h0m4 0h0m3 0h1m2 0h0m12 0h0m8 0h0m19 0h0m6 0h0m8 0h0m-128 1h0m3 0h0m2 0h0m5 0h1m3 0h3m2 0h0m2 0h3m2 0h12m2 0h0m2 0h9m4 0h0m2 0h2m2 0h6m10 0h2m41 0h0m-106 1h1m4 0h3m2 0h5m2 0h1m2 0h4m2 0h12m5 0h2m2 0h0m6 0h0m2 0h2m5 0h0m2 0h1m11 0h0m-90 1h0m2 0h0m6 0h0m2 0h0m2 0h0m3 0h0m4 0h1m2 0h2m3 0h0m2 0h13m3 0h1m2 0h1m3 0h1m2 0h0m2 0h1m2 0h0m2 0h0m2 0h3m7 0h1m2 0h0m-77 1h11m2 0h11m2 0h22m2 0h7m2 0h2m2 0h3m2 0h0m2 0h3m2 0h3m2 0h1m3 0h0m3 0h0m11 0h0"/><path transform="translate(58.5 467.5)" d="M20 0h0m-3 8h0m17 2h0m33 4h0m-35 1h0m9 5h0m13 0h0m-33 1h0m53 3h0m-20 5h0m-9 2h0m-37 2h0m64 1h0m-16 2h0m1 3h0m-12 1h0m8 0h0m-21 1h0m28 2h0m-44 1h0m26 0h0m-17 2h0m24 1h0m-7 3h0m19 0h0m-47 1h0m25 0h0m-5 2h0m23 1h0m-21 1h0m-36 1h0m27 0h0m8 1h0m14 0h0m-6 1h0m7 4h0m-40 1h0m9 0h0m13 0h0m45 0h0m32 0h0m-23 1h0m30 0h0m-58 1h0m18 0h0m32 0h0m-78 1h0m28 0h0m34 0h0m4 0h0m-53 1h0m17 0h0m-28 1h0m58 0h0m-67 1h0m21 0h0m66 0h0m-85 1h0m16 0h0m18 0h0m37 0h0m-41 1h0m14 0h0m2 0h0m2 0h0m14 0h0m5 0h0m23 0h0m-101 1h0m43 0h0m2 0h0m22 0h0m11 0h0m4 0h0m-86 1h0m40 0h0m8 0h0m3 0h0m2 0h0m4 0h1m4 0h0m10 0h0m2 0h0m-53 1h0m3 0h0m9 0h0m5 0h0m2 0h0m9 0h1m19 0h0m-64 1h0m49 0h0m6 0h0m7 0h0m3 0h2m7 0h0m7 0h0m8 0h0m-84 1h0m6 0h0m8 0h0m11 0h0m8 0h0m2 0h0m23 0h0m-29 1h0m9 0h0m3 0h0m2 0h4m7 0h0m5 0h0m4 0h0m2 0h1m3 0h0m5 0h0m-73 1h0m2 0h0m9 0h0m3 0h0m5 0h0m3 0h0m7 0h1m7 0h1m3 0h0m8 0h0m2 0h1m6 0h0m7 0h0m4 0h0m4 0h0m3 0h0m-77 1h0m4 0h0m12 0h1m4 0h0m2 0h0m15 0h0m3 0h0m10 0h0m2 0h0m4 0h0m4 0h0m3 0h1m10 0h0m-78 1h0m6 0h0m2 0h0m5 0h0m7 0h0m7 0h1m3 0h0m5 0h0m6 0h0m2 0h0m4 0h0m4 0h0m2 0h1m4 0h0m4 0h0m13 0h0m4 0h0m2 0h0m6 0h0m-92 1h0m7 0h0m5 0h0m3 0h1m6 0h0m5 0h0m7 0h0m9 0h0m4 0h0m2 0h0m5 0h0m2 0h0m5 0h0m16 0h1m6 0h0m-84 1h0m6 0h0m4 0h0m4 0h0m18 0h0m3 0h0m3 0h0m7 0h0m2 0h1m3 0h1m9 0h0m2 0h0m2 0h0m2 0h0m3 0h0m4 0h0m4 0h0m2 0h0m4 0h0m-94 1h0m10 0h0m8 0h0m5 0h0m21 0h0m8 0h0m3 0h1m8 0h0m7 0h2m3 0h1m5 0h1m-74 1h0m4 0h0m6 0h1m2 0h1m4 0h0m4 0h0m5 0h1m12 0h0m7 0h0m5 0h0m5 0h0m6 0h0m2 0h0m4 0h0m2 0h0m5 0h0m4 0h0m5 0h0m-89 1h0m9 0h2m8 0h3m3 0h1m5 0h0m3 0h1m2 0h0m4 0h0m9 0h0m2 0h0m2 0h2m2 0h1m3 0h0m3 0h0m3 0h2m2 0h0m2 0h0m45 0h0m-109 1h0m5 0h1m6 0h0m4 0h0m2 0h0m2 0h2m3 0h2m2 0h0m5 0h2m2 0h0m2 0h0m15 0h0m4 0h0m4 0h2m3 0h0m5 0h0m-91 1h0m16 0h0m5 0h1m2 0h0m3 0h0m5 0h0m2 0h0m8 0h1m3 0h0m10 0h2m2 0h1m4 0h0m3 0h2m11 0h0m10 0h0m5 0h0m9 0h0m-97 1h0m7 0h2m3 0h0m5 0h0m14 0h0m5 0h0m2 0h0m6 0h0m3 0h1m3 0h0m2 0h0m4 0h2m6 0h0m2 0h0m3 0h0m10 0h0m3 0h0m14 0h0m-97 1h0m2 0h0m5 0h0m15 0h0m3 0h0m3 0h1m2 0h2m3 0h1m3 0h2m6 0h0m6 0h2m3 0h0m6 0h1m3 0h0m2 0h3m3 0h0m11 0h0m-91 1h0m7 0h0m8 0h0m3 0h3m6 0h1m2 0h0m4 0h2m3 0h0m8 0h1m7 0h0m2 0h0m2 0h1m7 0h1m3 0h0m8 0h0m7 0h0m7 0h0m-97 1h1m7 0h0m5 0h0m6 0h2m2 0h0m4 0h4m4 0h0m5 0h0m3 0h0m2 0h0m5 0h0m2 0h0m3 0h0m8 0h0m6 0h0m2 0h1m2 0h0m10 0h0m2 0h0m19 0h0m-92 1h0m2 0h0m6 0h0m2 0h0m4 0h1m3 0h0m3 0h0m2 0h0m3 0h0m9 0h0m3 0h1m5 0h1m2 0h1m8 0h1m2 0h0m2 0h0m3 0h0m6 0h1m6 0h0m11 0h0m-96 1h0m7 0h0m2 0h1m4 0h1m5 0h0m4 0h0m2 0h0m2 0h0m2 0h0m6 0h0m4 0h0m2 0h0m4 0h0m3 0h0m2 0h1m2 0h0m3 0h1m5 0h0m7 0h0m4 0h0m7 0h0m12 0h0m-93 1h0m2 0h0m3 0h0m3 0h0m3 0h0m7 0h0m6 0h1m2 0h2m3 0h2m2 0h1m3 0h1m2 0h0m2 0h3m2 0h0m3 0h1m4 0h0m2 0h0m3 0h0m9 0h0m3 0h0m2 0h0m5 0h0m23 0h0m-111 1h0m7 0h0m10 0h1m2 0h3m2 0h2m2 0h0m3 0h6m2 0h0m2 0h4m3 0h2m2 0h2m3 0h2m2 0h0m4 0h0m4 0h0m2 0h1m4 0h0m-77 1h0m5 0h0m5 0h0m6 0h3m2 0h2m2 0h3m2 0h7m3 0h8m4 0h0m3 0h4m2 0h1m2 0h0m2 0h0m4 0h0m3 0h0m7 0h2m5 0h0m8 0h0m-95 1h0m9 0h1m2 0h0m4 0h2m2 0h8m2 0h0m3 0h25m2 0h2m2 0h5m3 0h1m3 0h0m6 0h1m6 0h0m-86 1h1m4 0h0m2 0h0m2 0h56m2 0h3m2 0h1m2 0h0m2 0h0m9 0h0m2 0h0m17 0h0m-108 1h1m3 0h5m2 0h0m2 0h66m5 0h0m6 0h0m9 0h0m5 0h0m-104 1h1m3 0h2m2 0h70m2 0h3m3 0h0m5 0h0m3 0h0m-94 1h2m2 0h29m2 0h42m2 0h1m2 0h3m4 0h0m-89 1h1m3 0h76m4 0h6m4 0h0m5 0h0m-99 1h0m2 0h74m2 0h0m2 0h2m3 0h0m4 0h3m10 0h0m-102 1h87m2 0h0m2 0h0m3 0h0m3 0h1m-98 1h3m2 0h0m2 0h72m2 0h9m2 0h0m4 0h0m2 0h0m-98 1h80m3 0h3m3 0h1m2 0h0m13 0h0m-105 1h1m2 0h78m2 0h0m3 0h0m2 0h0m2 0h0m2 0h0m3 0h1m3 0h0m-99 1h2m2 0h76m6 0h0m2 0h0m7 0h0m-95 1h75m2 0h4m2 0h0m5 0h0m12 0h0m-100 1h1m2 0h1m3 0h0m2 0h0m2 0h58m2 0h0m2 0h0m2 0h1m2 0h0m2 0h0m2 0h0m3 0h0m4 0h0m4 0h0m6 0h0m-99 1h1m6 0h1m3 0h0m2 0h2m2 0h25m2 0h11m2 0h15m2 0h5m2 0h1m2 0h0m2 0h0m-81 1h2m2 0h0m2 0h2m2 0h0m3 0h3m3 0h8m2 0h31m2 0h0m2 0h1m7 0h0m5 0h0m6 0h0m4 0h0m-92 1h0m9 0h2m2 0h2m2 0h0m3 0h0m2 0h1m2 0h0m2 0h5m4 0h6m2 0h8m2 0h1m2 0h0m2 0h7m6 0h0m3 0h0m4 0h0m4 0h0m5 0h0m10 0h0m-98 1h0m3 0h0m2 0h1m2 0h0m2 0h0m3 0h0m2 0h0m3 0h0m2 0h4m3 0h5m2 0h9m2 0h2m2 0h3m2 0h5m2 0h0m2 0h3m2 0h0m3 0h0m5 0h1m3 0h0m3 0h0m16 0h0"/><path transform="translate(221.5 466.5)" d="M17 0h0m-1 6h0m2 11h0m-1 2h0m8 0h0m-4 9h0m2 1h0m-6 3h0m9 0h0m-18 1h0m4 3h0m4 2h0m13 4h0m1 2h0m-22 1h0m57 0h0m-13 4h0m-27 1h0m30 1h0m19 0h0m-42 1h0m-2 3h0m26 0h0m22 0h0m-67 1h0m68 2h0m-53 4h1m-15 1h0m12 0h0m-2 1h0m4 0h0m48 0h0m-23 1h0m-22 1h0m-20 2h0m56 0h0m-60 1h0m10 0h0m3 0h0m2 0h3m5 1h0m-18 1h0m2 0h0m56 0h0m-24 1h0m-32 1h0m16 0h0m28 0h0m24 0h0m12 0h0m-86 1h0m7 0h0m10 2h0m83 0h0m-93 1h0m3 0h0m12 0h0m52 0h0m2 0h0m-71 1h0m18 0h1m10 0h0m41 0h0m4 0h0m-63 1h1m15 0h0m-32 1h0m18 0h1m35 0h0m-53 1h0m18 0h0m13 0h0m6 0h0m-34 1h0m11 0h0m2 0h0m6 0h0m52 0h0m-74 1h0m14 0h0m7 0h0m-12 1h0m4 0h0m6 0h0m-26 1h0m9 0h0m3 0h1m2 0h0m17 0h0m53 0h0m-64 1h0m3 0h0m7 0h0m-31 1h0m17 0h0m4 0h1m4 0h0m2 0h0m2 0h1m28 0h0m2 0h0m10 0h0m5 0h0m-71 1h0m2 0h0m5 0h0m4 0h0m8 0h2m2 0h0m-28 1h0m2 0h2m8 0h0m5 0h0m2 0h0m2 0h1m3 0h0m2 0h0m2 0h0m9 0h0m13 0h0m-51 1h1m7 0h0m2 0h1m6 0h0m2 0h2m2 0h3m5 0h0m2 0h1m11 0h0m-45 1h0m3 0h0m3 0h1m4 0h1m2 0h0m2 0h4m12 0h0m4 0h1m11 0h0m6 0h0m12 0h0m-66 1h2m2 0h0m2 0h0m3 0h1m2 0h4m3 0h2m2 0h0m2 0h0m2 0h3m3 0h1m2 0h0m4 0h1m2 0h0m2 0h0m4 0h0m6 0h0m9 0h0m-64 1h0m5 0h0m3 0h2m2 0h1m3 0h5m2 0h1m4 0h0m2 0h0m2 0h0m3 0h0m2 0h3m4 0h0m2 0h2m5 0h0m2 0h0m2 0h0m29 0h0m-86 1h3m2 0h0m2 0h0m2 0h5m2 0h5m3 0h3m2 0h0m2 0h1m2 0h1m2 0h1m5 0h0m11 0h0m-54 1h2m3 0h3m2 0h5m3 0h4m2 0h4m2 0h1m4 0h0m3 0h0m3 0h0m2 0h0m4 0h0m8 0h0m14 0h0m7 0h0m-76 1h8m3 0h0m3 0h17m2 0h2m2 0h0m4 0h6m4 0h0m2 0h1m3 0h0m2 0h0m3 0h0m5 0h0m4 0h0m-71 1h39m3 0h1m2 0h3m4 0h0m4 0h0m2 0h1m3 0h0m8 0h0m3 0h0m-73 1h7m2 0h28m3 0h3m4 0h0m2 0h0m2 0h0m2 0h0m5 0h0m3 0h1m2 0h0m3 0h0m-67 1h38m2 0h7m2 0h2m2 0h0m2 0h0m2 0h0m5 0h0m3 0h1m2 0h0m2 0h0m2 0h0m2 0h0m4 0h0m-78 1h38m2 0h1m3 0h4m2 0h1m2 0h5m2 0h1m2 0h0m3 0h2m2 0h2m-72 1h40m2 0h5m3 0h3m4 0h4m2 0h0m2 0h0m3 0h1m-69 1h47m3 0h2m2 0h7m2 0h1m6 0h1m-71 1h43m3 0h0m3 0h1m2 0h7m2 0h3m3 0h1m2 0h0m6 0h0m2 0h0m-78 1h48m2 0h0m2 0h4m3 0h1m2 0h0m2 0h2m4 0h0m5 0h0m3 0h0m3 0h0m-81 1h37m2 0h8m2 0h3m2 0h9m3 0h0m3 0h1m10 0h0m4 0h0m-84 1h39m2 0h12m2 0h1m2 0h2m2 0h6m3 0h0m4 0h0m12 0h0m5 0h0m-92 1h38m2 0h8m3 0h1m3 0h4m2 0h10m8 0h1m10 0h0m-90 1h37m3 0h3m3 0h2m2 0h3m2 0h5m3 0h0m2 0h0m7 0h0m10 0h0m-82 1h40m3 0h0m2 0h0m2 0h3m3 0h0m2 0h7m7 0h2m5 0h2m-78 1h38m2 0h15m2 0h0m2 0h1m4 0h3m4 0h1m-72 1h40m4 0h0m2 0h0m2 0h0m2 0h2m2 0h2m2 0h0m3 0h0m2 0h0m2 0h0m3 0h0m5 0h0m3 0h1m-77 1h6m2 0h11m2 0h16m2 0h0m2 0h1m7 0h2m2 0h0m5 0h0m6 0h0m3 0h0m5 0h0m-72 1h15m2 0h22m7 0h1m9 0h1m13 0h0m-70 1h2m2 0h1m2 0h21m2 0h4m3 0h3m2 0h2m3 0h0m2 0h1m2 0h2m3 0h1m4 0h0m2 0h0m3 0h2m3 0h1m7 0h0m16 0h0"/><path transform="translate(380.5 467.5)" d="M3 0h0m3 0h0m3 0h0m4 0h0m3 0h0m3 0h0m10 0h0m12 0h0m-11 1h0m-18 1h0m-12 1h0m10 0h0m-1 1h0m3 2h0m5 1h0m13 1h0m1 1h0m-30 4h0m10 0h0m9 1h0m28 0h0m-26 1h0m-13 2h0m3 0h0m4 5h0m4 0h0m2 2h0m7 0h0m-24 2h0m8 0h0m33 0h0m-8 1h0m-35 1h0m33 5h0m19 2h0m-48 1h0m13 0h0m-7 1h0m4 0h0m17 0h0m11 6h0m-3 1h0m-14 12h0m3 0h0m8 2h0m61 3h0m-15 1h0m12 1h0m-7 2h0m-84 2h0m88 0h0m2 0h0m-83 1h0m10 0h0m2 0h0m-4 1h0m43 0h0m28 0h0m-65 1h0m47 0h0m-47 1h0m4 0h0m43 0h0m21 0h0m-91 1h1m34 0h0m40 0h0m-75 1h0m11 0h0m2 0h1m2 0h0m30 0h0m18 0h0m17 0h0m5 0h1m-84 1h0m16 0h0m7 0h0m6 0h0m28 0h0m18 0h0m4 0h0m8 0h0m-85 1h1m13 0h0m2 0h0m2 0h0m16 0h0m21 0h0m-48 1h0m19 0h0m7 0h0m4 0h0m12 0h0m-58 1h0m6 0h0m25 0h0m3 0h0m22 0h0m38 0h0m-83 1h0m34 0h0m17 0h0m3 0h0m9 0h0m-55 1h0m5 0h0m5 0h0m5 0h0m14 0h0m7 0h0m-47 1h0m10 0h0m3 0h1m9 0h0m9 0h0m14 0h0m12 0h0m6 0h0m4 0h0m-63 1h0m4 0h0m7 0h0m5 0h0m14 0h0m13 0h0m3 0h0m2 0h1m-31 1h0m14 0h0m10 0h0m6 0h0m5 0h0m7 0h0m16 0h0m-89 1h0m12 0h0m4 0h0m3 0h0m6 0h0m4 0h0m12 0h1m13 0h0m2 0h0m3 0h0m10 0h0m3 0h0m32 0h0m-94 1h1m2 0h0m5 0h0m4 0h0m21 0h0m3 0h0m18 0h0m-47 1h0m3 0h0m4 0h0m4 0h0m20 0h0m6 0h0m4 0h1m10 0h0m2 0h0m-60 1h1m6 0h0m12 0h0m11 0h0m4 0h0m5 0h0m6 0h0m2 0h0m10 0h0m4 0h1m-72 1h0m5 0h0m5 0h0m9 0h0m15 0h2m13 0h0m7 0h0m-58 1h0m8 0h1m3 0h0m9 0h0m2 0h0m10 0h1m3 0h0m6 0h0m5 0h0m12 0h0m-60 1h0m10 0h0m2 0h4m4 0h1m4 0h1m2 0h0m2 0h1m20 0h0m-51 1h0m5 0h0m5 0h0m2 0h0m2 0h0m4 0h0m5 0h0m4 0h1m3 0h0m3 0h0m2 0h0m16 0h0m14 0h0m5 0h0m-71 1h0m5 0h1m6 0h2m6 0h0m4 0h0m5 0h0m5 0h0m2 0h0m3 0h1m3 0h0m6 0h3m2 0h0m7 0h1m5 0h0m27 0h0m-94 1h1m6 0h1m5 0h0m3 0h0m2 0h3m4 0h0m3 0h1m2 0h0m5 0h0m2 0h0m2 0h2m3 0h1m2 0h0m3 0h0m2 0h0m3 0h0m13 0h0m-69 1h1m2 0h0m3 0h0m2 0h4m2 0h2m2 0h1m2 0h1m2 0h0m2 0h2m2 0h0m2 0h7m3 0h1m9 0h0m4 0h0m3 0h1m2 0h0m39 0h0m-101 1h0m3 0h1m4 0h8m3 0h3m2 0h0m2 0h3m3 0h3m3 0h0m2 0h1m14 0h0m5 0h0m3 0h1m7 0h0m3 0h0m-74 1h5m2 0h3m2 0h0m4 0h0m2 0h8m2 0h0m2 0h7m2 0h7m2 0h0m2 0h0m2 0h1m4 0h0m5 0h0m3 0h0m11 0h1m2 0h0m3 0h0m-82 1h1m2 0h0m2 0h2m2 0h0m2 0h1m2 0h4m2 0h5m2 0h0m2 0h2m2 0h2m2 0h0m2 0h0m2 0h2m3 0h5m3 0h0m2 0h0m3 0h2m7 0h1m2 0h1m14 0h1m6 0h0m-93 1h0m2 0h9m2 0h2m2 0h0m2 0h2m2 0h18m3 0h1m2 0h2m2 0h0m2 0h2m2 0h0m3 0h1m3 0h0m4 0h0m9 0h0m4 0h1m-82 1h3m2 0h1m3 0h3m2 0h9m2 0h11m2 0h8m2 0h0m2 0h5m4 0h0m2 0h1m2 0h0m4 0h0m2 0h1m5 0h1m2 0h0m2 0h0m21 0h0m-102 1h1m2 0h6m2 0h9m2 0h11m2 0h5m2 0h6m2 0h9m2 0h0m2 0h0m2 0h0m3 0h3m3 0h1m6 0h0m5 0h0m2 0h0m-88 1h3m2 0h33m2 0h8m2 0h2m2 0h2m2 0h2m2 0h2m2 0h1m2 0h1m6 0h3m3 0h2m3 0h0m2 0h0m24 0h0m-113 1h47m2 0h2m2 0h2m2 0h0m3 0h1m3 0h0m2 0h0m7 0h0m19 0h1m5 0h0m-98 1h43m2 0h0m2 0h6m2 0h0m2 0h0m2 0h2m2 0h1m2 0h2m3 0h0m2 0h3m2 0h0m9 0h0m6 0h0m-93 1h37m2 0h0m2 0h5m3 0h8m3 0h2m2 0h0m2 0h0m5 0h0m2 0h1m-74 1h41m3 0h10m2 0h1m4 0h5m2 0h0m5 0h2m8 0h0m4 0h1m5 0h0m3 0h0m-96 1h47m3 0h0m2 0h4m2 0h3m2 0h0m2 0h1m12 0h1m2 0h0m6 0h0m4 0h0m2 0h0m-93 1h0m2 0h37m2 0h3m2 0h4m2 0h8m6 0h2m3 0h0m6 0h0m5 0h0m2 0h0m-84 1h42m2 0h2m2 0h2m2 0h0m2 0h2m2 0h2m4 0h0m2 0h0m2 0h0m2 0h1m3 0h2m5 0h0m5 0h0m4 0h1m3 0h0m12 0h0m-106 1h37m2 0h0m3 0h0m2 0h0m2 0h2m2 0h0m2 0h6m3 0h1m4 0h0m2 0h1m7 0h3m3 0h0m4 0h0m-86 1h47m2 0h1m4 0h3m3 0h0m2 0h0m2 0h4m3 0h0m3 0h0m4 0h0m18 0h0m-96 1h37m2 0h4m3 0h0m2 0h0m3 0h1m2 0h0m3 0h0m2 0h1m3 0h1m2 0h0m2 0h2m3 0h0m2 0h0m5 0h0m-80 1h36m2 0h2m3 0h0m2 0h0m2 0h4m3 0h0m4 0h0m2 0h3m2 0h0m4 0h1m30 0h0m-100 1h36m2 0h0m3 0h0m3 0h1m2 0h0m6 0h1m10 0h0m6 0h0m10 0h0m-80 1h37m2 0h1m2 0h2m2 0h0m3 0h0m2 0h0m4 0h1m4 0h0m3 0h0m2 0h0m4 0h0m-69 1h1m2 0h3m2 0h42m2 0h0m5 0h1m3 0h1m2 0h0m3 0h1m2 0h1m11 0h0m2 0h0m11 0h0"/></g></g></svg></body></html>
